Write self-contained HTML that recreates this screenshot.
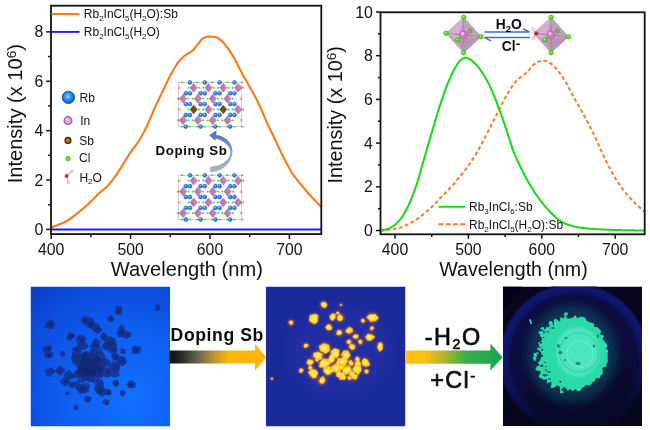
<!DOCTYPE html>
<html><head><meta charset="utf-8"><title>figure</title>
<style>
html,body{margin:0;padding:0;background:#fff;}
body{width:650px;height:430px;overflow:hidden;}
svg{display:block;font-family:"Liberation Sans", sans-serif;}
</style></head><body>
<svg width="650" height="430" viewBox="0 0 650 430">
<defs>
<linearGradient id="ga1" x1="0" x2="1" y1="0" y2="0">
<stop offset="0" stop-color="#0c0c0c"/><stop offset="0.12" stop-color="#2a2a2a"/><stop offset="0.3" stop-color="#6d6654"/><stop offset="0.48" stop-color="#c99a26"/><stop offset="0.62" stop-color="#ffb50d"/><stop offset="1" stop-color="#ffb60c"/>
</linearGradient>
<linearGradient id="ga2" x1="0" x2="1" y1="0" y2="0">
<stop offset="0" stop-color="#ffc20e"/><stop offset="0.2" stop-color="#fcc010"/><stop offset="0.42" stop-color="#a6b52e"/><stop offset="0.62" stop-color="#3aae4c"/><stop offset="1" stop-color="#18a650"/>
</linearGradient>
<linearGradient id="gcurve" x1="0" x2="0" y1="1" y2="0">
<stop offset="0" stop-color="#a9b3c2"/><stop offset="0.45" stop-color="#8fa3c6"/><stop offset="1" stop-color="#3f6cc4"/>
</linearGradient>
<radialGradient id="gRb" cx="0.45" cy="0.42" r="0.62"><stop offset="0" stop-color="#9ad6ff"/><stop offset="0.35" stop-color="#3a9cf4"/><stop offset="0.7" stop-color="#1672dc"/><stop offset="1" stop-color="#0b4cae"/></radialGradient>
<radialGradient id="gp1" cx="0.72" cy="0.8" r="1.05"><stop offset="0" stop-color="#1170ff"/><stop offset="0.5" stop-color="#0d5cee"/><stop offset="0.85" stop-color="#0b48d8"/><stop offset="1" stop-color="#0a40c6"/></radialGradient>
<radialGradient id="gp3" cx="0.5" cy="0.5" r="0.5"><stop offset="0" stop-color="#0a1648"/><stop offset="0.6" stop-color="#090d3e"/><stop offset="0.82" stop-color="#0a0d42"/><stop offset="0.91" stop-color="#10156c"/><stop offset="0.96" stop-color="#121774"/><stop offset="1" stop-color="#080a30"/></radialGradient>
<linearGradient id="gdark" x1="0.3" y1="0" x2="0.5" y2="1"><stop offset="0" stop-color="#06071f" stop-opacity="0"/><stop offset="0.5" stop-color="#06071f" stop-opacity="0.05"/><stop offset="0.8" stop-color="#06071f" stop-opacity="0.6"/><stop offset="1" stop-color="#06071f" stop-opacity="0.9"/></linearGradient>
<filter id="b1" x="-20%" y="-20%" width="140%" height="140%"><feGaussianBlur stdDeviation="0.75"/></filter>
<filter id="b2" x="-20%" y="-20%" width="140%" height="140%"><feGaussianBlur stdDeviation="0.55"/></filter>
<filter id="b3" x="-30%" y="-30%" width="160%" height="160%"><feGaussianBlur stdDeviation="1.3"/></filter>
<filter id="b6" x="-30%" y="-30%" width="160%" height="160%"><feGaussianBlur stdDeviation="5"/></filter>
<clipPath id="c1"><rect x="30.5" y="286.5" width="139.5" height="140"/></clipPath>
<clipPath id="c2"><rect x="266" y="286.5" width="139.5" height="140"/></clipPath>
<clipPath id="c3"><rect x="503" y="286.5" width="139" height="139.5"/></clipPath>
</defs>
<rect width="650" height="430" fill="#fff"/>

<g id="left-plot">
<path d="M51.20,227.30 L52.10,227.02 L53.01,226.73 L53.91,226.43 L54.81,226.12 L55.72,225.80 L56.62,225.47 L57.52,225.12 L58.43,224.77 L59.33,224.41 L60.23,224.05 L61.14,223.67 L62.04,223.28 L62.94,222.88 L63.85,222.46 L64.75,222.01 L65.65,221.55 L66.56,221.06 L67.46,220.52 L68.36,219.94 L69.27,219.32 L70.17,218.68 L71.07,218.01 L71.98,217.33 L72.88,216.65 L73.78,215.96 L74.69,215.29 L75.59,214.61 L76.49,213.92 L77.40,213.22 L78.30,212.51 L79.20,211.80 L80.11,211.07 L81.01,210.33 L81.91,209.58 L82.82,208.82 L83.72,208.03 L84.62,207.24 L85.53,206.43 L86.43,205.60 L87.33,204.77 L88.24,203.93 L89.14,203.08 L90.04,202.22 L90.95,201.36 L91.85,200.49 L92.75,199.59 L93.66,198.68 L94.56,197.76 L95.46,196.85 L96.37,195.94 L97.27,195.05 L98.17,194.18 L99.08,193.34 L99.98,192.54 L100.88,191.78 L101.79,191.04 L102.69,190.31 L103.59,189.57 L104.50,188.81 L105.40,188.02 L106.30,187.19 L107.21,186.29 L108.11,185.33 L109.01,184.32 L109.92,183.27 L110.82,182.17 L111.72,181.04 L112.63,179.87 L113.53,178.68 L114.43,177.46 L115.34,176.22 L116.24,174.95 L117.14,173.62 L118.05,172.23 L118.95,170.81 L119.85,169.37 L120.76,167.92 L121.66,166.48 L122.56,165.04 L123.47,163.58 L124.37,162.10 L125.27,160.62 L126.18,159.13 L127.08,157.66 L127.98,156.21 L128.89,154.79 L129.79,153.41 L130.69,152.10 L131.60,150.84 L132.50,149.62 L133.40,148.43 L134.31,147.26 L135.21,146.08 L136.11,144.88 L137.02,143.65 L137.92,142.36 L138.82,141.02 L139.73,139.59 L140.63,138.08 L141.53,136.50 L142.44,134.85 L143.34,133.13 L144.24,131.37 L145.15,129.57 L146.05,127.73 L146.95,125.86 L147.86,123.90 L148.76,121.85 L149.66,119.76 L150.57,117.65 L151.47,115.54 L152.37,113.48 L153.28,111.46 L154.18,109.44 L155.08,107.44 L155.99,105.44 L156.89,103.46 L157.79,101.50 L158.70,99.56 L159.60,97.66 L160.50,95.78 L161.41,93.91 L162.31,92.05 L163.21,90.19 L164.12,88.31 L165.02,86.38 L165.92,84.44 L166.83,82.50 L167.73,80.58 L168.63,78.70 L169.54,76.89 L170.44,75.16 L171.34,73.51 L172.25,71.89 L173.15,70.30 L174.05,68.74 L174.96,67.24 L175.86,65.79 L176.76,64.42 L177.67,63.14 L178.57,61.96 L179.47,60.87 L180.38,59.84 L181.28,58.87 L182.18,57.96 L183.09,57.11 L183.99,56.31 L184.89,55.56 L185.80,54.90 L186.70,54.30 L187.61,53.75 L188.51,53.22 L189.41,52.68 L190.32,52.12 L191.22,51.51 L192.12,50.82 L193.03,50.02 L193.93,49.08 L194.83,48.03 L195.74,46.93 L196.64,45.82 L197.54,44.75 L198.45,43.62 L199.35,42.38 L200.25,41.13 L201.16,39.96 L202.06,38.96 L202.96,38.23 L203.87,37.81 L204.77,37.46 L205.67,37.15 L206.58,36.88 L207.48,36.68 L208.38,36.55 L209.29,36.50 L210.19,36.52 L211.09,36.56 L212.00,36.64 L212.90,36.74 L213.80,36.86 L214.71,37.00 L215.61,37.16 L216.51,37.35 L217.42,37.70 L218.32,38.23 L219.22,38.91 L220.13,39.68 L221.03,40.51 L221.93,41.35 L222.84,42.21 L223.74,43.16 L224.64,44.20 L225.55,45.32 L226.45,46.49 L227.35,47.69 L228.26,48.91 L229.16,50.17 L230.06,51.48 L230.97,52.84 L231.87,54.26 L232.77,55.73 L233.68,57.24 L234.58,58.83 L235.48,60.52 L236.39,62.31 L237.29,64.14 L238.19,66.00 L239.10,67.85 L240.00,69.66 L240.90,71.39 L241.81,73.06 L242.71,74.70 L243.61,76.32 L244.52,77.92 L245.42,79.51 L246.32,81.09 L247.23,82.68 L248.13,84.28 L249.03,85.89 L249.94,87.49 L250.84,89.06 L251.74,90.63 L252.65,92.21 L253.55,93.81 L254.45,95.43 L255.36,97.10 L256.26,98.83 L257.16,100.63 L258.07,102.50 L258.97,104.44 L259.87,106.43 L260.78,108.45 L261.68,110.48 L262.58,112.53 L263.49,114.66 L264.39,116.82 L265.29,118.99 L266.20,121.11 L267.10,123.16 L268.00,125.10 L268.91,126.97 L269.81,128.79 L270.71,130.58 L271.62,132.37 L272.52,134.19 L273.42,136.06 L274.33,137.98 L275.23,139.95 L276.13,141.94 L277.04,143.92 L277.94,145.89 L278.84,147.83 L279.75,149.72 L280.65,151.58 L281.55,153.43 L282.46,155.25 L283.36,157.05 L284.26,158.82 L285.17,160.56 L286.07,162.28 L286.97,164.00 L287.88,165.70 L288.78,167.37 L289.68,168.99 L290.59,170.55 L291.49,172.03 L292.39,173.42 L293.30,174.76 L294.20,176.04 L295.10,177.29 L296.01,178.49 L296.91,179.68 L297.81,180.85 L298.72,181.98 L299.62,183.08 L300.52,184.16 L301.43,185.22 L302.33,186.27 L303.23,187.33 L304.14,188.40 L305.04,189.49 L305.94,190.58 L306.85,191.66 L307.75,192.74 L308.65,193.79 L309.56,194.82 L310.46,195.81 L311.36,196.77 L312.27,197.70 L313.17,198.62 L314.07,199.53 L314.98,200.44 L315.88,201.37 L316.78,202.32 L317.69,203.27 L318.59,204.22 L319.49,205.18 L320.40,206.14 L321.30,207.10" fill="none" stroke="#ff7410" stroke-width="2" stroke-linejoin="round"/>
<line x1="51" y1="229.45" x2="321" y2="229.45" stroke="#1a1aff" stroke-width="2"/>
<rect x="51.0" y="5.7" width="270.3" height="228.4" fill="none" stroke="#111" stroke-width="1.8"/>
<line x1="46.2" y1="229.45" x2="51.0" y2="229.45" stroke="#111" stroke-width="1.5"/>
<text x="43.2" y="235.0" font-size="15.8" text-anchor="end" font-weight="normal" fill="#111" >0</text>
<line x1="48.1" y1="204.75" x2="51.0" y2="204.75" stroke="#111" stroke-width="1.5"/>
<line x1="46.2" y1="180.05" x2="51.0" y2="180.05" stroke="#111" stroke-width="1.5"/>
<text x="43.2" y="185.6" font-size="15.8" text-anchor="end" font-weight="normal" fill="#111" >2</text>
<line x1="48.1" y1="155.35" x2="51.0" y2="155.35" stroke="#111" stroke-width="1.5"/>
<line x1="46.2" y1="130.65" x2="51.0" y2="130.65" stroke="#111" stroke-width="1.5"/>
<text x="43.2" y="136.2" font-size="15.8" text-anchor="end" font-weight="normal" fill="#111" >4</text>
<line x1="48.1" y1="105.95" x2="51.0" y2="105.95" stroke="#111" stroke-width="1.5"/>
<line x1="46.2" y1="81.25" x2="51.0" y2="81.25" stroke="#111" stroke-width="1.5"/>
<text x="43.2" y="86.8" font-size="15.8" text-anchor="end" font-weight="normal" fill="#111" >6</text>
<line x1="48.1" y1="56.55" x2="51.0" y2="56.55" stroke="#111" stroke-width="1.5"/>
<line x1="46.2" y1="31.85" x2="51.0" y2="31.85" stroke="#111" stroke-width="1.5"/>
<text x="43.2" y="37.4" font-size="15.8" text-anchor="end" font-weight="normal" fill="#111" >8</text>
<line x1="51.20" y1="234.1" x2="51.20" y2="239.1" stroke="#111" stroke-width="1.5"/>
<text x="51.2" y="254.9" font-size="15.8" text-anchor="middle" font-weight="normal" fill="#111" >400</text>
<line x1="90.90" y1="234.1" x2="90.90" y2="237.2" stroke="#111" stroke-width="1.5"/>
<line x1="130.60" y1="234.1" x2="130.60" y2="239.1" stroke="#111" stroke-width="1.5"/>
<text x="130.6" y="254.9" font-size="15.8" text-anchor="middle" font-weight="normal" fill="#111" >500</text>
<line x1="170.30" y1="234.1" x2="170.30" y2="237.2" stroke="#111" stroke-width="1.5"/>
<line x1="210.00" y1="234.1" x2="210.00" y2="239.1" stroke="#111" stroke-width="1.5"/>
<text x="210.0" y="254.9" font-size="15.8" text-anchor="middle" font-weight="normal" fill="#111" >600</text>
<line x1="249.70" y1="234.1" x2="249.70" y2="237.2" stroke="#111" stroke-width="1.5"/>
<line x1="289.40" y1="234.1" x2="289.40" y2="239.1" stroke="#111" stroke-width="1.5"/>
<text x="289.4" y="254.9" font-size="15.8" text-anchor="middle" font-weight="normal" fill="#111" >700</text>
<text x="186.8" y="275.9" font-size="20.1" text-anchor="middle" font-weight="normal" fill="#111" >Wavelength (nm)</text>
<text transform="translate(21.8,113.7) rotate(-90)" font-size="20.1" text-anchor="middle" fill="#111">Intensity (x 10<tspan font-size="13.6" dy="-6.2">6</tspan><tspan dy="6.2" font-size="1">&#8203;</tspan>)</text>
<line x1="51.5" y1="14" x2="79.5" y2="14" stroke="#ff7410" stroke-width="1.9"/>
<line x1="51.5" y1="31.9" x2="79.5" y2="31.9" stroke="#1a1aff" stroke-width="1.9"/>
<text x="83.8" y="18.3" font-size="12.0" text-anchor="start" font-weight="normal" fill="#111" >Rb<tspan font-size="8.0" dy="3.0">2</tspan><tspan dy="-3.0" font-size="1">&#8203;</tspan>InCl<tspan font-size="8.0" dy="3.0">5</tspan><tspan dy="-3.0" font-size="1">&#8203;</tspan>(H<tspan font-size="8.0" dy="3.0">2</tspan><tspan dy="-3.0" font-size="1">&#8203;</tspan>O):Sb</text>
<text x="83.8" y="36.2" font-size="12.0" text-anchor="start" font-weight="normal" fill="#111" >Rb<tspan font-size="8.0" dy="3.0">2</tspan><tspan dy="-3.0" font-size="1">&#8203;</tspan>InCl<tspan font-size="8.0" dy="3.0">5</tspan><tspan dy="-3.0" font-size="1">&#8203;</tspan>(H<tspan font-size="8.0" dy="3.0">2</tspan><tspan dy="-3.0" font-size="1">&#8203;</tspan>O)</text>
<circle cx="68.4" cy="97.4" r="6.2" fill="url(#gRb)" stroke="#0a3f98" stroke-width="0.8"/>
<text x="79.6" y="101.6" font-size="12" text-anchor="start" font-weight="normal" fill="#111" >Rb</text>
<circle cx="68" cy="120.6" r="3.9" fill="#e59ad9" stroke="#9a5a92" stroke-width="1.2"/><circle cx="67.3" cy="119.8" r="1.3" fill="#f8d5f2"/>
<text x="80.2" y="124.8" font-size="12" text-anchor="start" font-weight="normal" fill="#111" >In</text>
<circle cx="68" cy="140.4" r="2.9" fill="#a8651c" stroke="#4a2708" stroke-width="1.3"/><circle cx="67.6" cy="140" r="0.9" fill="#e0a860"/>
<text x="79.2" y="144.7" font-size="12" text-anchor="start" font-weight="normal" fill="#111" >Sb</text>
<circle cx="68" cy="158.6" r="2.2" fill="#56ee22" stroke="#2faa10" stroke-width="0.7"/>
<text x="79.0" y="162.0" font-size="12" text-anchor="start" font-weight="normal" fill="#111" >Cl</text>
<g><line x1="66.8" y1="176" x2="71.8" y2="171.4" stroke="#c48a8a" stroke-width="0.9"/><line x1="66.8" y1="176" x2="68.2" y2="182.3" stroke="#c48a8a" stroke-width="0.9"/><circle cx="71.9" cy="171.3" r="1.3" fill="#f0d8d8" stroke="#b88" stroke-width="0.4"/><circle cx="68.3" cy="182.4" r="1.3" fill="#f0d8d8" stroke="#b88" stroke-width="0.4"/><circle cx="66.6" cy="176" r="1.7" fill="#d62828" stroke="#8e1414" stroke-width="0.4"/></g>
<text x="79.4" y="181.6" font-size="12" text-anchor="start" font-weight="normal" fill="#111" >H<tspan font-size="8" dy="2.8">2</tspan><tspan dy="-2.8" font-size="1">&#8203;</tspan>O</text>
<g transform="translate(178.2,81.5)">
<rect x="0.5" y="0.8" width="63.0" height="44.4" fill="#fbfbfb" stroke="#b9b9b9" stroke-width="0.7"/>
<rect x="9.3" y="5.4" width="2" height="1.8" rx="0.8" fill="#3fd23a"/>
<rect x="19.7" y="5.4" width="2" height="1.8" rx="0.8" fill="#3fd23a"/>
<polygon points="11.9,6.3 15.5,1.9 19.1,6.3 15.5,10.7" fill="#c583b8" stroke="#9a5c92" stroke-width="0.4"/>
<polygon points="11.9,6.3 15.5,1.9 15.5,10.7" fill="#b06fa6" opacity="0.55"/>
<rect x="24.1" y="5.4" width="2" height="1.8" rx="0.8" fill="#3fd23a"/>
<rect x="34.5" y="5.4" width="2" height="1.8" rx="0.8" fill="#3fd23a"/>
<polygon points="26.7,6.3 30.3,1.9 33.9,6.3 30.3,10.7" fill="#c583b8" stroke="#9a5c92" stroke-width="0.4"/>
<polygon points="26.7,6.3 30.3,1.9 30.3,10.7" fill="#b06fa6" opacity="0.55"/>
<rect x="38.9" y="5.4" width="2" height="1.8" rx="0.8" fill="#3fd23a"/>
<rect x="49.3" y="5.4" width="2" height="1.8" rx="0.8" fill="#3fd23a"/>
<polygon points="41.5,6.3 45.1,1.9 48.7,6.3 45.1,10.7" fill="#c583b8" stroke="#9a5c92" stroke-width="0.4"/>
<polygon points="41.5,6.3 45.1,1.9 45.1,10.7" fill="#b06fa6" opacity="0.55"/>
<rect x="53.7" y="5.4" width="2" height="1.8" rx="0.8" fill="#3fd23a"/>
<rect x="64.1" y="5.4" width="2" height="1.8" rx="0.8" fill="#3fd23a"/>
<polygon points="56.3,6.3 59.9,1.9 63.5,6.3 59.9,10.7" fill="#c583b8" stroke="#9a5c92" stroke-width="0.4"/>
<polygon points="56.3,6.3 59.9,1.9 59.9,10.7" fill="#b06fa6" opacity="0.55"/>
<rect x="-1.2" y="16.3" width="2" height="1.8" rx="0.8" fill="#3fd23a"/>
<rect x="9.2" y="16.3" width="2" height="1.8" rx="0.8" fill="#3fd23a"/>
<polygon points="1.4,17.2 5.0,12.8 8.6,17.2 5.0,21.6" fill="#c583b8" stroke="#9a5c92" stroke-width="0.4"/>
<polygon points="1.4,17.2 5.0,12.8 5.0,21.6" fill="#b06fa6" opacity="0.55"/>
<rect x="13.6" y="16.3" width="2" height="1.8" rx="0.8" fill="#3fd23a"/>
<rect x="24.0" y="16.3" width="2" height="1.8" rx="0.8" fill="#3fd23a"/>
<polygon points="16.2,17.2 19.8,12.8 23.4,17.2 19.8,21.6" fill="#c583b8" stroke="#9a5c92" stroke-width="0.4"/>
<polygon points="16.2,17.2 19.8,12.8 19.8,21.6" fill="#b06fa6" opacity="0.55"/>
<rect x="28.4" y="16.3" width="2" height="1.8" rx="0.8" fill="#3fd23a"/>
<rect x="38.8" y="16.3" width="2" height="1.8" rx="0.8" fill="#3fd23a"/>
<polygon points="31.0,17.2 34.6,12.8 38.2,17.2 34.6,21.6" fill="#c583b8" stroke="#9a5c92" stroke-width="0.4"/>
<polygon points="31.0,17.2 34.6,12.8 34.6,21.6" fill="#b06fa6" opacity="0.55"/>
<rect x="43.2" y="16.3" width="2" height="1.8" rx="0.8" fill="#3fd23a"/>
<rect x="53.6" y="16.3" width="2" height="1.8" rx="0.8" fill="#3fd23a"/>
<polygon points="45.8,17.2 49.4,12.8 53.0,17.2 49.4,21.6" fill="#c583b8" stroke="#9a5c92" stroke-width="0.4"/>
<polygon points="45.8,17.2 49.4,12.8 49.4,21.6" fill="#b06fa6" opacity="0.55"/>
<rect x="9.3" y="27.1" width="2" height="1.8" rx="0.8" fill="#3fd23a"/>
<rect x="19.7" y="27.1" width="2" height="1.8" rx="0.8" fill="#3fd23a"/>
<polygon points="11.9,28.0 15.5,23.6 19.1,28.0 15.5,32.4" fill="#7a4a1c" stroke="#5c3510" stroke-width="0.4"/>
<rect x="24.1" y="27.1" width="2" height="1.8" rx="0.8" fill="#3fd23a"/>
<rect x="34.5" y="27.1" width="2" height="1.8" rx="0.8" fill="#3fd23a"/>
<polygon points="26.7,28.0 30.3,23.6 33.9,28.0 30.3,32.4" fill="#c583b8" stroke="#9a5c92" stroke-width="0.4"/>
<polygon points="26.7,28.0 30.3,23.6 30.3,32.4" fill="#b06fa6" opacity="0.55"/>
<rect x="38.9" y="27.1" width="2" height="1.8" rx="0.8" fill="#3fd23a"/>
<rect x="49.3" y="27.1" width="2" height="1.8" rx="0.8" fill="#3fd23a"/>
<polygon points="41.5,28.0 45.1,23.6 48.7,28.0 45.1,32.4" fill="#7a4a1c" stroke="#5c3510" stroke-width="0.4"/>
<rect x="53.7" y="27.1" width="2" height="1.8" rx="0.8" fill="#3fd23a"/>
<rect x="64.1" y="27.1" width="2" height="1.8" rx="0.8" fill="#3fd23a"/>
<polygon points="56.3,28.0 59.9,23.6 63.5,28.0 59.9,32.4" fill="#c583b8" stroke="#9a5c92" stroke-width="0.4"/>
<polygon points="56.3,28.0 59.9,23.6 59.9,32.4" fill="#b06fa6" opacity="0.55"/>
<rect x="-1.2" y="37.9" width="2" height="1.8" rx="0.8" fill="#3fd23a"/>
<rect x="9.2" y="37.9" width="2" height="1.8" rx="0.8" fill="#3fd23a"/>
<polygon points="1.4,38.8 5.0,34.4 8.6,38.8 5.0,43.2" fill="#c583b8" stroke="#9a5c92" stroke-width="0.4"/>
<polygon points="1.4,38.8 5.0,34.4 5.0,43.2" fill="#b06fa6" opacity="0.55"/>
<rect x="13.6" y="37.9" width="2" height="1.8" rx="0.8" fill="#3fd23a"/>
<rect x="24.0" y="37.9" width="2" height="1.8" rx="0.8" fill="#3fd23a"/>
<polygon points="16.2,38.8 19.8,34.4 23.4,38.8 19.8,43.2" fill="#c583b8" stroke="#9a5c92" stroke-width="0.4"/>
<polygon points="16.2,38.8 19.8,34.4 19.8,43.2" fill="#b06fa6" opacity="0.55"/>
<rect x="28.4" y="37.9" width="2" height="1.8" rx="0.8" fill="#3fd23a"/>
<rect x="38.8" y="37.9" width="2" height="1.8" rx="0.8" fill="#3fd23a"/>
<polygon points="31.0,38.8 34.6,34.4 38.2,38.8 34.6,43.2" fill="#c583b8" stroke="#9a5c92" stroke-width="0.4"/>
<polygon points="31.0,38.8 34.6,34.4 34.6,43.2" fill="#b06fa6" opacity="0.55"/>
<rect x="43.2" y="37.9" width="2" height="1.8" rx="0.8" fill="#3fd23a"/>
<rect x="53.6" y="37.9" width="2" height="1.8" rx="0.8" fill="#3fd23a"/>
<polygon points="45.8,38.8 49.4,34.4 53.0,38.8 49.4,43.2" fill="#c583b8" stroke="#9a5c92" stroke-width="0.4"/>
<polygon points="45.8,38.8 49.4,34.4 49.4,43.2" fill="#b06fa6" opacity="0.55"/>
<rect x="2.8" y="0.1" width="2.4" height="1.4" fill="#3fd23a"/>
<rect x="2.8" y="44.5" width="2.4" height="1.4" fill="#3fd23a"/>
<rect x="10.3" y="0.1" width="2.4" height="1.4" fill="#3fd23a"/>
<rect x="10.3" y="44.5" width="2.4" height="1.4" fill="#3fd23a"/>
<rect x="17.8" y="0.1" width="2.4" height="1.4" fill="#3fd23a"/>
<rect x="17.8" y="44.5" width="2.4" height="1.4" fill="#3fd23a"/>
<rect x="25.3" y="0.1" width="2.4" height="1.4" fill="#3fd23a"/>
<rect x="25.3" y="44.5" width="2.4" height="1.4" fill="#3fd23a"/>
<rect x="32.8" y="0.1" width="2.4" height="1.4" fill="#3fd23a"/>
<rect x="32.8" y="44.5" width="2.4" height="1.4" fill="#3fd23a"/>
<rect x="40.3" y="0.1" width="2.4" height="1.4" fill="#3fd23a"/>
<rect x="40.3" y="44.5" width="2.4" height="1.4" fill="#3fd23a"/>
<rect x="47.8" y="0.1" width="2.4" height="1.4" fill="#3fd23a"/>
<rect x="47.8" y="44.5" width="2.4" height="1.4" fill="#3fd23a"/>
<rect x="55.3" y="0.1" width="2.4" height="1.4" fill="#3fd23a"/>
<rect x="55.3" y="44.5" width="2.4" height="1.4" fill="#3fd23a"/>
<rect x="62.8" y="0.1" width="2.4" height="1.4" fill="#3fd23a"/>
<rect x="62.8" y="44.5" width="2.4" height="1.4" fill="#3fd23a"/>
<path d="M-0.30000000000000004,5.0 L2.3,7.6 M-0.30000000000000004,7.6 L2.3,5.0" stroke="#e25a5a" stroke-width="0.6"/>
<path d="M61.7,5.0 L64.3,7.6 M61.7,7.6 L64.3,5.0" stroke="#e25a5a" stroke-width="0.6"/>
<path d="M-0.30000000000000004,15.899999999999999 L2.3,18.5 M-0.30000000000000004,18.5 L2.3,15.899999999999999" stroke="#e25a5a" stroke-width="0.6"/>
<path d="M61.7,15.899999999999999 L64.3,18.5 M61.7,18.5 L64.3,15.899999999999999" stroke="#e25a5a" stroke-width="0.6"/>
<path d="M-0.30000000000000004,26.7 L2.3,29.3 M-0.30000000000000004,29.3 L2.3,26.7" stroke="#e25a5a" stroke-width="0.6"/>
<path d="M61.7,26.7 L64.3,29.3 M61.7,29.3 L64.3,26.7" stroke="#e25a5a" stroke-width="0.6"/>
<path d="M-0.30000000000000004,37.5 L2.3,40.099999999999994 M-0.30000000000000004,40.099999999999994 L2.3,37.5" stroke="#e25a5a" stroke-width="0.6"/>
<path d="M61.7,37.5 L64.3,40.099999999999994 M61.7,40.099999999999994 L64.3,37.5" stroke="#e25a5a" stroke-width="0.6"/>
<circle cx="11.8" cy="0.9" r="1.9" fill="#2a7fe0" stroke="#1557b5" stroke-width="0.6"/>
<circle cx="11.4" cy="0.4" r="0.8" fill="#9ccaf7"/>
<circle cx="7.6" cy="45.1" r="1.9" fill="#2a7fe0" stroke="#1557b5" stroke-width="0.6"/>
<circle cx="7.2" cy="44.6" r="0.8" fill="#9ccaf7"/>
<circle cx="26.6" cy="0.9" r="1.9" fill="#2a7fe0" stroke="#1557b5" stroke-width="0.6"/>
<circle cx="26.2" cy="0.4" r="0.8" fill="#9ccaf7"/>
<circle cx="22.4" cy="45.1" r="1.9" fill="#2a7fe0" stroke="#1557b5" stroke-width="0.6"/>
<circle cx="22.0" cy="44.6" r="0.8" fill="#9ccaf7"/>
<circle cx="41.4" cy="0.9" r="1.9" fill="#2a7fe0" stroke="#1557b5" stroke-width="0.6"/>
<circle cx="41.0" cy="0.4" r="0.8" fill="#9ccaf7"/>
<circle cx="37.2" cy="45.1" r="1.9" fill="#2a7fe0" stroke="#1557b5" stroke-width="0.6"/>
<circle cx="36.8" cy="44.6" r="0.8" fill="#9ccaf7"/>
<circle cx="56.2" cy="0.9" r="1.9" fill="#2a7fe0" stroke="#1557b5" stroke-width="0.6"/>
<circle cx="55.8" cy="0.4" r="0.8" fill="#9ccaf7"/>
<circle cx="52.0" cy="45.1" r="1.9" fill="#2a7fe0" stroke="#1557b5" stroke-width="0.6"/>
<circle cx="51.6" cy="44.6" r="0.8" fill="#9ccaf7"/>
<circle cx="7.6" cy="11.8" r="1.9" fill="#2a7fe0" stroke="#1557b5" stroke-width="0.6"/>
<circle cx="7.2" cy="11.3" r="0.8" fill="#9ccaf7"/>
<circle cx="11.8" cy="11.8" r="1.9" fill="#2a7fe0" stroke="#1557b5" stroke-width="0.6"/>
<circle cx="11.4" cy="11.3" r="0.8" fill="#9ccaf7"/>
<circle cx="22.4" cy="11.8" r="1.9" fill="#2a7fe0" stroke="#1557b5" stroke-width="0.6"/>
<circle cx="22.0" cy="11.3" r="0.8" fill="#9ccaf7"/>
<circle cx="26.6" cy="11.8" r="1.9" fill="#2a7fe0" stroke="#1557b5" stroke-width="0.6"/>
<circle cx="26.2" cy="11.3" r="0.8" fill="#9ccaf7"/>
<circle cx="37.2" cy="11.8" r="1.9" fill="#2a7fe0" stroke="#1557b5" stroke-width="0.6"/>
<circle cx="36.8" cy="11.3" r="0.8" fill="#9ccaf7"/>
<circle cx="41.4" cy="11.8" r="1.9" fill="#2a7fe0" stroke="#1557b5" stroke-width="0.6"/>
<circle cx="41.0" cy="11.3" r="0.8" fill="#9ccaf7"/>
<circle cx="52.0" cy="11.8" r="1.9" fill="#2a7fe0" stroke="#1557b5" stroke-width="0.6"/>
<circle cx="51.6" cy="11.3" r="0.8" fill="#9ccaf7"/>
<circle cx="56.2" cy="11.8" r="1.9" fill="#2a7fe0" stroke="#1557b5" stroke-width="0.6"/>
<circle cx="55.8" cy="11.3" r="0.8" fill="#9ccaf7"/>
<circle cx="7.6" cy="22.6" r="1.9" fill="#2a7fe0" stroke="#1557b5" stroke-width="0.6"/>
<circle cx="7.2" cy="22.1" r="0.8" fill="#9ccaf7"/>
<circle cx="11.8" cy="22.6" r="1.9" fill="#2a7fe0" stroke="#1557b5" stroke-width="0.6"/>
<circle cx="11.4" cy="22.1" r="0.8" fill="#9ccaf7"/>
<circle cx="22.4" cy="22.6" r="1.9" fill="#2a7fe0" stroke="#1557b5" stroke-width="0.6"/>
<circle cx="22.0" cy="22.1" r="0.8" fill="#9ccaf7"/>
<circle cx="26.6" cy="22.6" r="1.9" fill="#2a7fe0" stroke="#1557b5" stroke-width="0.6"/>
<circle cx="26.2" cy="22.1" r="0.8" fill="#9ccaf7"/>
<circle cx="37.2" cy="22.6" r="1.9" fill="#2a7fe0" stroke="#1557b5" stroke-width="0.6"/>
<circle cx="36.8" cy="22.1" r="0.8" fill="#9ccaf7"/>
<circle cx="41.4" cy="22.6" r="1.9" fill="#2a7fe0" stroke="#1557b5" stroke-width="0.6"/>
<circle cx="41.0" cy="22.1" r="0.8" fill="#9ccaf7"/>
<circle cx="52.0" cy="22.6" r="1.9" fill="#2a7fe0" stroke="#1557b5" stroke-width="0.6"/>
<circle cx="51.6" cy="22.1" r="0.8" fill="#9ccaf7"/>
<circle cx="56.2" cy="22.6" r="1.9" fill="#2a7fe0" stroke="#1557b5" stroke-width="0.6"/>
<circle cx="55.8" cy="22.1" r="0.8" fill="#9ccaf7"/>
<circle cx="7.6" cy="33.5" r="1.9" fill="#2a7fe0" stroke="#1557b5" stroke-width="0.6"/>
<circle cx="7.2" cy="33.0" r="0.8" fill="#9ccaf7"/>
<circle cx="11.8" cy="33.5" r="1.9" fill="#2a7fe0" stroke="#1557b5" stroke-width="0.6"/>
<circle cx="11.4" cy="33.0" r="0.8" fill="#9ccaf7"/>
<circle cx="22.4" cy="33.5" r="1.9" fill="#2a7fe0" stroke="#1557b5" stroke-width="0.6"/>
<circle cx="22.0" cy="33.0" r="0.8" fill="#9ccaf7"/>
<circle cx="26.6" cy="33.5" r="1.9" fill="#2a7fe0" stroke="#1557b5" stroke-width="0.6"/>
<circle cx="26.2" cy="33.0" r="0.8" fill="#9ccaf7"/>
<circle cx="37.2" cy="33.5" r="1.9" fill="#2a7fe0" stroke="#1557b5" stroke-width="0.6"/>
<circle cx="36.8" cy="33.0" r="0.8" fill="#9ccaf7"/>
<circle cx="41.4" cy="33.5" r="1.9" fill="#2a7fe0" stroke="#1557b5" stroke-width="0.6"/>
<circle cx="41.0" cy="33.0" r="0.8" fill="#9ccaf7"/>
<circle cx="52.0" cy="33.5" r="1.9" fill="#2a7fe0" stroke="#1557b5" stroke-width="0.6"/>
<circle cx="51.6" cy="33.0" r="0.8" fill="#9ccaf7"/>
<circle cx="56.2" cy="33.5" r="1.9" fill="#2a7fe0" stroke="#1557b5" stroke-width="0.6"/>
<circle cx="55.8" cy="33.0" r="0.8" fill="#9ccaf7"/>
</g>
<g transform="translate(178.2,174.4)">
<rect x="0.5" y="0.8" width="63.0" height="44.4" fill="#fbfbfb" stroke="#b9b9b9" stroke-width="0.7"/>
<rect x="9.3" y="5.4" width="2" height="1.8" rx="0.8" fill="#3fd23a"/>
<rect x="19.7" y="5.4" width="2" height="1.8" rx="0.8" fill="#3fd23a"/>
<polygon points="11.9,6.3 15.5,1.9 19.1,6.3 15.5,10.7" fill="#c583b8" stroke="#9a5c92" stroke-width="0.4"/>
<polygon points="11.9,6.3 15.5,1.9 15.5,10.7" fill="#b06fa6" opacity="0.55"/>
<rect x="24.1" y="5.4" width="2" height="1.8" rx="0.8" fill="#3fd23a"/>
<rect x="34.5" y="5.4" width="2" height="1.8" rx="0.8" fill="#3fd23a"/>
<polygon points="26.7,6.3 30.3,1.9 33.9,6.3 30.3,10.7" fill="#c583b8" stroke="#9a5c92" stroke-width="0.4"/>
<polygon points="26.7,6.3 30.3,1.9 30.3,10.7" fill="#b06fa6" opacity="0.55"/>
<rect x="38.9" y="5.4" width="2" height="1.8" rx="0.8" fill="#3fd23a"/>
<rect x="49.3" y="5.4" width="2" height="1.8" rx="0.8" fill="#3fd23a"/>
<polygon points="41.5,6.3 45.1,1.9 48.7,6.3 45.1,10.7" fill="#c583b8" stroke="#9a5c92" stroke-width="0.4"/>
<polygon points="41.5,6.3 45.1,1.9 45.1,10.7" fill="#b06fa6" opacity="0.55"/>
<rect x="53.7" y="5.4" width="2" height="1.8" rx="0.8" fill="#3fd23a"/>
<rect x="64.1" y="5.4" width="2" height="1.8" rx="0.8" fill="#3fd23a"/>
<polygon points="56.3,6.3 59.9,1.9 63.5,6.3 59.9,10.7" fill="#c583b8" stroke="#9a5c92" stroke-width="0.4"/>
<polygon points="56.3,6.3 59.9,1.9 59.9,10.7" fill="#b06fa6" opacity="0.55"/>
<rect x="-1.2" y="16.3" width="2" height="1.8" rx="0.8" fill="#3fd23a"/>
<rect x="9.2" y="16.3" width="2" height="1.8" rx="0.8" fill="#3fd23a"/>
<polygon points="1.4,17.2 5.0,12.8 8.6,17.2 5.0,21.6" fill="#c583b8" stroke="#9a5c92" stroke-width="0.4"/>
<polygon points="1.4,17.2 5.0,12.8 5.0,21.6" fill="#b06fa6" opacity="0.55"/>
<rect x="13.6" y="16.3" width="2" height="1.8" rx="0.8" fill="#3fd23a"/>
<rect x="24.0" y="16.3" width="2" height="1.8" rx="0.8" fill="#3fd23a"/>
<polygon points="16.2,17.2 19.8,12.8 23.4,17.2 19.8,21.6" fill="#c583b8" stroke="#9a5c92" stroke-width="0.4"/>
<polygon points="16.2,17.2 19.8,12.8 19.8,21.6" fill="#b06fa6" opacity="0.55"/>
<rect x="28.4" y="16.3" width="2" height="1.8" rx="0.8" fill="#3fd23a"/>
<rect x="38.8" y="16.3" width="2" height="1.8" rx="0.8" fill="#3fd23a"/>
<polygon points="31.0,17.2 34.6,12.8 38.2,17.2 34.6,21.6" fill="#c583b8" stroke="#9a5c92" stroke-width="0.4"/>
<polygon points="31.0,17.2 34.6,12.8 34.6,21.6" fill="#b06fa6" opacity="0.55"/>
<rect x="43.2" y="16.3" width="2" height="1.8" rx="0.8" fill="#3fd23a"/>
<rect x="53.6" y="16.3" width="2" height="1.8" rx="0.8" fill="#3fd23a"/>
<polygon points="45.8,17.2 49.4,12.8 53.0,17.2 49.4,21.6" fill="#c583b8" stroke="#9a5c92" stroke-width="0.4"/>
<polygon points="45.8,17.2 49.4,12.8 49.4,21.6" fill="#b06fa6" opacity="0.55"/>
<rect x="9.3" y="27.1" width="2" height="1.8" rx="0.8" fill="#3fd23a"/>
<rect x="19.7" y="27.1" width="2" height="1.8" rx="0.8" fill="#3fd23a"/>
<polygon points="11.9,28.0 15.5,23.6 19.1,28.0 15.5,32.4" fill="#c583b8" stroke="#9a5c92" stroke-width="0.4"/>
<polygon points="11.9,28.0 15.5,23.6 15.5,32.4" fill="#b06fa6" opacity="0.55"/>
<rect x="24.1" y="27.1" width="2" height="1.8" rx="0.8" fill="#3fd23a"/>
<rect x="34.5" y="27.1" width="2" height="1.8" rx="0.8" fill="#3fd23a"/>
<polygon points="26.7,28.0 30.3,23.6 33.9,28.0 30.3,32.4" fill="#c583b8" stroke="#9a5c92" stroke-width="0.4"/>
<polygon points="26.7,28.0 30.3,23.6 30.3,32.4" fill="#b06fa6" opacity="0.55"/>
<rect x="38.9" y="27.1" width="2" height="1.8" rx="0.8" fill="#3fd23a"/>
<rect x="49.3" y="27.1" width="2" height="1.8" rx="0.8" fill="#3fd23a"/>
<polygon points="41.5,28.0 45.1,23.6 48.7,28.0 45.1,32.4" fill="#c583b8" stroke="#9a5c92" stroke-width="0.4"/>
<polygon points="41.5,28.0 45.1,23.6 45.1,32.4" fill="#b06fa6" opacity="0.55"/>
<rect x="53.7" y="27.1" width="2" height="1.8" rx="0.8" fill="#3fd23a"/>
<rect x="64.1" y="27.1" width="2" height="1.8" rx="0.8" fill="#3fd23a"/>
<polygon points="56.3,28.0 59.9,23.6 63.5,28.0 59.9,32.4" fill="#c583b8" stroke="#9a5c92" stroke-width="0.4"/>
<polygon points="56.3,28.0 59.9,23.6 59.9,32.4" fill="#b06fa6" opacity="0.55"/>
<rect x="-1.2" y="37.9" width="2" height="1.8" rx="0.8" fill="#3fd23a"/>
<rect x="9.2" y="37.9" width="2" height="1.8" rx="0.8" fill="#3fd23a"/>
<polygon points="1.4,38.8 5.0,34.4 8.6,38.8 5.0,43.2" fill="#c583b8" stroke="#9a5c92" stroke-width="0.4"/>
<polygon points="1.4,38.8 5.0,34.4 5.0,43.2" fill="#b06fa6" opacity="0.55"/>
<rect x="13.6" y="37.9" width="2" height="1.8" rx="0.8" fill="#3fd23a"/>
<rect x="24.0" y="37.9" width="2" height="1.8" rx="0.8" fill="#3fd23a"/>
<polygon points="16.2,38.8 19.8,34.4 23.4,38.8 19.8,43.2" fill="#c583b8" stroke="#9a5c92" stroke-width="0.4"/>
<polygon points="16.2,38.8 19.8,34.4 19.8,43.2" fill="#b06fa6" opacity="0.55"/>
<rect x="28.4" y="37.9" width="2" height="1.8" rx="0.8" fill="#3fd23a"/>
<rect x="38.8" y="37.9" width="2" height="1.8" rx="0.8" fill="#3fd23a"/>
<polygon points="31.0,38.8 34.6,34.4 38.2,38.8 34.6,43.2" fill="#c583b8" stroke="#9a5c92" stroke-width="0.4"/>
<polygon points="31.0,38.8 34.6,34.4 34.6,43.2" fill="#b06fa6" opacity="0.55"/>
<rect x="43.2" y="37.9" width="2" height="1.8" rx="0.8" fill="#3fd23a"/>
<rect x="53.6" y="37.9" width="2" height="1.8" rx="0.8" fill="#3fd23a"/>
<polygon points="45.8,38.8 49.4,34.4 53.0,38.8 49.4,43.2" fill="#c583b8" stroke="#9a5c92" stroke-width="0.4"/>
<polygon points="45.8,38.8 49.4,34.4 49.4,43.2" fill="#b06fa6" opacity="0.55"/>
<rect x="2.8" y="0.1" width="2.4" height="1.4" fill="#3fd23a"/>
<rect x="2.8" y="44.5" width="2.4" height="1.4" fill="#3fd23a"/>
<rect x="10.3" y="0.1" width="2.4" height="1.4" fill="#3fd23a"/>
<rect x="10.3" y="44.5" width="2.4" height="1.4" fill="#3fd23a"/>
<rect x="17.8" y="0.1" width="2.4" height="1.4" fill="#3fd23a"/>
<rect x="17.8" y="44.5" width="2.4" height="1.4" fill="#3fd23a"/>
<rect x="25.3" y="0.1" width="2.4" height="1.4" fill="#3fd23a"/>
<rect x="25.3" y="44.5" width="2.4" height="1.4" fill="#3fd23a"/>
<rect x="32.8" y="0.1" width="2.4" height="1.4" fill="#3fd23a"/>
<rect x="32.8" y="44.5" width="2.4" height="1.4" fill="#3fd23a"/>
<rect x="40.3" y="0.1" width="2.4" height="1.4" fill="#3fd23a"/>
<rect x="40.3" y="44.5" width="2.4" height="1.4" fill="#3fd23a"/>
<rect x="47.8" y="0.1" width="2.4" height="1.4" fill="#3fd23a"/>
<rect x="47.8" y="44.5" width="2.4" height="1.4" fill="#3fd23a"/>
<rect x="55.3" y="0.1" width="2.4" height="1.4" fill="#3fd23a"/>
<rect x="55.3" y="44.5" width="2.4" height="1.4" fill="#3fd23a"/>
<rect x="62.8" y="0.1" width="2.4" height="1.4" fill="#3fd23a"/>
<rect x="62.8" y="44.5" width="2.4" height="1.4" fill="#3fd23a"/>
<path d="M-0.30000000000000004,5.0 L2.3,7.6 M-0.30000000000000004,7.6 L2.3,5.0" stroke="#e25a5a" stroke-width="0.6"/>
<path d="M61.7,5.0 L64.3,7.6 M61.7,7.6 L64.3,5.0" stroke="#e25a5a" stroke-width="0.6"/>
<path d="M-0.30000000000000004,15.899999999999999 L2.3,18.5 M-0.30000000000000004,18.5 L2.3,15.899999999999999" stroke="#e25a5a" stroke-width="0.6"/>
<path d="M61.7,15.899999999999999 L64.3,18.5 M61.7,18.5 L64.3,15.899999999999999" stroke="#e25a5a" stroke-width="0.6"/>
<path d="M-0.30000000000000004,26.7 L2.3,29.3 M-0.30000000000000004,29.3 L2.3,26.7" stroke="#e25a5a" stroke-width="0.6"/>
<path d="M61.7,26.7 L64.3,29.3 M61.7,29.3 L64.3,26.7" stroke="#e25a5a" stroke-width="0.6"/>
<path d="M-0.30000000000000004,37.5 L2.3,40.099999999999994 M-0.30000000000000004,40.099999999999994 L2.3,37.5" stroke="#e25a5a" stroke-width="0.6"/>
<path d="M61.7,37.5 L64.3,40.099999999999994 M61.7,40.099999999999994 L64.3,37.5" stroke="#e25a5a" stroke-width="0.6"/>
<circle cx="11.8" cy="0.9" r="1.9" fill="#2a7fe0" stroke="#1557b5" stroke-width="0.6"/>
<circle cx="11.4" cy="0.4" r="0.8" fill="#9ccaf7"/>
<circle cx="7.6" cy="45.1" r="1.9" fill="#2a7fe0" stroke="#1557b5" stroke-width="0.6"/>
<circle cx="7.2" cy="44.6" r="0.8" fill="#9ccaf7"/>
<circle cx="26.6" cy="0.9" r="1.9" fill="#2a7fe0" stroke="#1557b5" stroke-width="0.6"/>
<circle cx="26.2" cy="0.4" r="0.8" fill="#9ccaf7"/>
<circle cx="22.4" cy="45.1" r="1.9" fill="#2a7fe0" stroke="#1557b5" stroke-width="0.6"/>
<circle cx="22.0" cy="44.6" r="0.8" fill="#9ccaf7"/>
<circle cx="41.4" cy="0.9" r="1.9" fill="#2a7fe0" stroke="#1557b5" stroke-width="0.6"/>
<circle cx="41.0" cy="0.4" r="0.8" fill="#9ccaf7"/>
<circle cx="37.2" cy="45.1" r="1.9" fill="#2a7fe0" stroke="#1557b5" stroke-width="0.6"/>
<circle cx="36.8" cy="44.6" r="0.8" fill="#9ccaf7"/>
<circle cx="56.2" cy="0.9" r="1.9" fill="#2a7fe0" stroke="#1557b5" stroke-width="0.6"/>
<circle cx="55.8" cy="0.4" r="0.8" fill="#9ccaf7"/>
<circle cx="52.0" cy="45.1" r="1.9" fill="#2a7fe0" stroke="#1557b5" stroke-width="0.6"/>
<circle cx="51.6" cy="44.6" r="0.8" fill="#9ccaf7"/>
<circle cx="7.6" cy="11.8" r="1.9" fill="#2a7fe0" stroke="#1557b5" stroke-width="0.6"/>
<circle cx="7.2" cy="11.3" r="0.8" fill="#9ccaf7"/>
<circle cx="11.8" cy="11.8" r="1.9" fill="#2a7fe0" stroke="#1557b5" stroke-width="0.6"/>
<circle cx="11.4" cy="11.3" r="0.8" fill="#9ccaf7"/>
<circle cx="22.4" cy="11.8" r="1.9" fill="#2a7fe0" stroke="#1557b5" stroke-width="0.6"/>
<circle cx="22.0" cy="11.3" r="0.8" fill="#9ccaf7"/>
<circle cx="26.6" cy="11.8" r="1.9" fill="#2a7fe0" stroke="#1557b5" stroke-width="0.6"/>
<circle cx="26.2" cy="11.3" r="0.8" fill="#9ccaf7"/>
<circle cx="37.2" cy="11.8" r="1.9" fill="#2a7fe0" stroke="#1557b5" stroke-width="0.6"/>
<circle cx="36.8" cy="11.3" r="0.8" fill="#9ccaf7"/>
<circle cx="41.4" cy="11.8" r="1.9" fill="#2a7fe0" stroke="#1557b5" stroke-width="0.6"/>
<circle cx="41.0" cy="11.3" r="0.8" fill="#9ccaf7"/>
<circle cx="52.0" cy="11.8" r="1.9" fill="#2a7fe0" stroke="#1557b5" stroke-width="0.6"/>
<circle cx="51.6" cy="11.3" r="0.8" fill="#9ccaf7"/>
<circle cx="56.2" cy="11.8" r="1.9" fill="#2a7fe0" stroke="#1557b5" stroke-width="0.6"/>
<circle cx="55.8" cy="11.3" r="0.8" fill="#9ccaf7"/>
<circle cx="7.6" cy="22.6" r="1.9" fill="#2a7fe0" stroke="#1557b5" stroke-width="0.6"/>
<circle cx="7.2" cy="22.1" r="0.8" fill="#9ccaf7"/>
<circle cx="11.8" cy="22.6" r="1.9" fill="#2a7fe0" stroke="#1557b5" stroke-width="0.6"/>
<circle cx="11.4" cy="22.1" r="0.8" fill="#9ccaf7"/>
<circle cx="22.4" cy="22.6" r="1.9" fill="#2a7fe0" stroke="#1557b5" stroke-width="0.6"/>
<circle cx="22.0" cy="22.1" r="0.8" fill="#9ccaf7"/>
<circle cx="26.6" cy="22.6" r="1.9" fill="#2a7fe0" stroke="#1557b5" stroke-width="0.6"/>
<circle cx="26.2" cy="22.1" r="0.8" fill="#9ccaf7"/>
<circle cx="37.2" cy="22.6" r="1.9" fill="#2a7fe0" stroke="#1557b5" stroke-width="0.6"/>
<circle cx="36.8" cy="22.1" r="0.8" fill="#9ccaf7"/>
<circle cx="41.4" cy="22.6" r="1.9" fill="#2a7fe0" stroke="#1557b5" stroke-width="0.6"/>
<circle cx="41.0" cy="22.1" r="0.8" fill="#9ccaf7"/>
<circle cx="52.0" cy="22.6" r="1.9" fill="#2a7fe0" stroke="#1557b5" stroke-width="0.6"/>
<circle cx="51.6" cy="22.1" r="0.8" fill="#9ccaf7"/>
<circle cx="56.2" cy="22.6" r="1.9" fill="#2a7fe0" stroke="#1557b5" stroke-width="0.6"/>
<circle cx="55.8" cy="22.1" r="0.8" fill="#9ccaf7"/>
<circle cx="7.6" cy="33.5" r="1.9" fill="#2a7fe0" stroke="#1557b5" stroke-width="0.6"/>
<circle cx="7.2" cy="33.0" r="0.8" fill="#9ccaf7"/>
<circle cx="11.8" cy="33.5" r="1.9" fill="#2a7fe0" stroke="#1557b5" stroke-width="0.6"/>
<circle cx="11.4" cy="33.0" r="0.8" fill="#9ccaf7"/>
<circle cx="22.4" cy="33.5" r="1.9" fill="#2a7fe0" stroke="#1557b5" stroke-width="0.6"/>
<circle cx="22.0" cy="33.0" r="0.8" fill="#9ccaf7"/>
<circle cx="26.6" cy="33.5" r="1.9" fill="#2a7fe0" stroke="#1557b5" stroke-width="0.6"/>
<circle cx="26.2" cy="33.0" r="0.8" fill="#9ccaf7"/>
<circle cx="37.2" cy="33.5" r="1.9" fill="#2a7fe0" stroke="#1557b5" stroke-width="0.6"/>
<circle cx="36.8" cy="33.0" r="0.8" fill="#9ccaf7"/>
<circle cx="41.4" cy="33.5" r="1.9" fill="#2a7fe0" stroke="#1557b5" stroke-width="0.6"/>
<circle cx="41.0" cy="33.0" r="0.8" fill="#9ccaf7"/>
<circle cx="52.0" cy="33.5" r="1.9" fill="#2a7fe0" stroke="#1557b5" stroke-width="0.6"/>
<circle cx="51.6" cy="33.0" r="0.8" fill="#9ccaf7"/>
<circle cx="56.2" cy="33.5" r="1.9" fill="#2a7fe0" stroke="#1557b5" stroke-width="0.6"/>
<circle cx="55.8" cy="33.0" r="0.8" fill="#9ccaf7"/>
</g>
<path d="M210.2,172.4 C224.5,171.5 232.6,161 232.4,151 C232.2,142 225,136 216.2,135 L216.5,130.3 L209.3,135.3 L215.3,141 L215.7,138.5 C222,140 230.0,145 230.4,151.5 C230.8,158 224,165.8 210.2,166.8 Z" fill="url(#gcurve)"/>
<text x="155.5" y="155" font-size="13.3" text-anchor="start" font-weight="bold" fill="#0a0a0a" letter-spacing="0.6">Doping Sb</text>
</g>
<g id="right-plot">
<path d="M380.30,230.80 L381.18,230.75 L382.07,230.68 L382.95,230.61 L383.84,230.53 L384.72,230.45 L385.61,230.35 L386.49,230.26 L387.37,230.16 L388.26,230.04 L389.14,229.92 L390.03,229.78 L390.91,229.64 L391.80,229.49 L392.68,229.33 L393.56,229.16 L394.45,228.99 L395.33,228.81 L396.22,228.62 L397.10,228.42 L397.99,228.21 L398.87,227.98 L399.75,227.74 L400.64,227.48 L401.52,227.20 L402.41,226.88 L403.29,226.53 L404.18,226.16 L405.06,225.76 L405.94,225.35 L406.83,224.92 L407.71,224.49 L408.60,224.05 L409.48,223.59 L410.37,223.11 L411.25,222.61 L412.13,222.09 L413.02,221.56 L413.90,221.02 L414.79,220.47 L415.67,219.91 L416.56,219.34 L417.44,218.75 L418.32,218.14 L419.21,217.52 L420.09,216.88 L420.98,216.23 L421.86,215.55 L422.75,214.85 L423.63,214.11 L424.51,213.35 L425.40,212.57 L426.28,211.78 L427.17,210.98 L428.05,210.18 L428.94,209.38 L429.82,208.59 L430.70,207.79 L431.59,206.99 L432.47,206.19 L433.36,205.37 L434.24,204.53 L435.13,203.67 L436.01,202.79 L436.89,201.86 L437.78,200.89 L438.66,199.90 L439.55,198.91 L440.43,197.93 L441.32,196.97 L442.20,196.04 L443.08,195.12 L443.97,194.22 L444.85,193.32 L445.74,192.43 L446.62,191.54 L447.51,190.65 L448.39,189.75 L449.27,188.84 L450.16,187.92 L451.04,186.99 L451.93,186.03 L452.81,185.05 L453.70,184.04 L454.58,182.99 L455.46,181.90 L456.35,180.79 L457.23,179.68 L458.12,178.57 L459.00,177.48 L459.89,176.41 L460.77,175.37 L461.65,174.33 L462.54,173.29 L463.42,172.23 L464.31,171.15 L465.19,170.03 L466.08,168.87 L466.96,167.67 L467.84,166.44 L468.73,165.18 L469.61,163.89 L470.50,162.58 L471.38,161.25 L472.27,159.89 L473.15,158.52 L474.03,157.12 L474.92,155.69 L475.80,154.24 L476.69,152.76 L477.57,151.26 L478.46,149.73 L479.34,148.18 L480.22,146.58 L481.11,144.95 L481.99,143.29 L482.88,141.60 L483.76,139.89 L484.65,138.16 L485.53,136.43 L486.41,134.68 L487.30,132.93 L488.18,131.19 L489.07,129.45 L489.95,127.72 L490.84,125.98 L491.72,124.24 L492.60,122.49 L493.49,120.74 L494.37,118.98 L495.26,117.22 L496.14,115.46 L497.03,113.70 L497.91,111.95 L498.79,110.20 L499.68,108.45 L500.56,106.68 L501.45,104.90 L502.33,103.13 L503.22,101.38 L504.10,99.68 L504.98,98.03 L505.87,96.45 L506.75,94.91 L507.64,93.41 L508.52,91.95 L509.41,90.50 L510.29,89.05 L511.17,87.63 L512.06,86.26 L512.94,85.01 L513.83,83.87 L514.71,82.79 L515.59,81.77 L516.48,80.81 L517.36,79.91 L518.25,79.07 L519.13,78.32 L520.02,77.63 L520.90,76.97 L521.78,76.31 L522.67,75.63 L523.55,74.91 L524.44,74.17 L525.32,73.43 L526.21,72.66 L527.09,71.87 L527.97,71.03 L528.86,70.12 L529.74,69.06 L530.63,67.91 L531.51,66.77 L532.40,65.79 L533.28,64.98 L534.16,64.20 L535.05,63.45 L535.93,62.77 L536.82,62.21 L537.70,61.80 L538.59,61.57 L539.47,61.41 L540.35,61.27 L541.24,61.15 L542.12,61.05 L543.01,60.97 L543.89,60.92 L544.78,60.90 L545.66,60.97 L546.54,61.20 L547.43,61.57 L548.31,62.03 L549.20,62.55 L550.08,63.09 L550.97,63.63 L551.85,64.27 L552.73,65.02 L553.62,65.86 L554.50,66.76 L555.39,67.70 L556.27,68.67 L557.16,69.69 L558.04,70.80 L558.92,71.98 L559.81,73.21 L560.69,74.47 L561.58,75.75 L562.46,77.05 L563.35,78.39 L564.23,79.77 L565.11,81.19 L566.00,82.65 L566.88,84.17 L567.77,85.78 L568.65,87.50 L569.54,89.25 L570.42,91.00 L571.30,92.67 L572.19,94.30 L573.07,95.90 L573.96,97.49 L574.84,99.07 L575.73,100.64 L576.61,102.20 L577.49,103.76 L578.38,105.33 L579.26,106.91 L580.15,108.50 L581.03,110.11 L581.92,111.73 L582.80,113.35 L583.68,114.97 L584.57,116.58 L585.45,118.20 L586.34,119.82 L587.22,121.45 L588.11,123.10 L588.99,124.75 L589.87,126.43 L590.76,128.13 L591.64,129.85 L592.53,131.60 L593.41,133.38 L594.30,135.19 L595.18,137.07 L596.06,139.02 L596.95,141.02 L597.83,143.05 L598.72,145.09 L599.60,147.11 L600.49,149.09 L601.37,151.03 L602.25,152.96 L603.14,154.88 L604.02,156.79 L604.91,158.68 L605.79,160.54 L606.68,162.36 L607.56,164.13 L608.44,165.85 L609.33,167.55 L610.21,169.22 L611.10,170.86 L611.98,172.46 L612.87,174.04 L613.75,175.57 L614.63,177.07 L615.52,178.52 L616.40,179.94 L617.29,181.33 L618.17,182.69 L619.06,184.03 L619.94,185.33 L620.82,186.59 L621.71,187.83 L622.59,189.02 L623.48,190.19 L624.36,191.32 L625.25,192.43 L626.13,193.51 L627.01,194.57 L627.90,195.60 L628.78,196.61 L629.67,197.60 L630.55,198.56 L631.44,199.51 L632.32,200.44 L633.20,201.36 L634.09,202.25 L634.97,203.12 L635.86,203.98 L636.74,204.82 L637.63,205.65 L638.51,206.46 L639.39,207.25 L640.28,208.03 L641.16,208.80 L642.05,209.55 L642.93,210.28 L643.82,211.00 L644.70,211.70" fill="none" stroke="#ff7420" stroke-width="1.9" stroke-dasharray="3.7 2.6"/>
<path d="M380.30,230.30 L381.18,230.26 L382.07,230.17 L382.95,230.04 L383.83,229.87 L384.72,229.68 L385.60,229.46 L386.48,229.24 L387.37,229.00 L388.25,228.70 L389.13,228.34 L390.02,227.93 L390.90,227.47 L391.78,226.96 L392.67,226.41 L393.55,225.84 L394.43,225.22 L395.32,224.52 L396.20,223.73 L397.08,222.86 L397.97,221.92 L398.85,220.92 L399.73,219.86 L400.62,218.76 L401.50,217.61 L402.38,216.34 L403.27,214.97 L404.15,213.51 L405.03,211.97 L405.92,210.35 L406.80,208.67 L407.68,206.94 L408.56,205.13 L409.45,203.22 L410.33,201.19 L411.21,199.07 L412.10,196.87 L412.98,194.60 L413.86,192.28 L414.75,189.91 L415.63,187.48 L416.51,184.91 L417.40,182.23 L418.28,179.41 L419.16,176.39 L420.05,173.22 L420.93,170.02 L421.81,166.90 L422.70,163.81 L423.58,160.72 L424.46,157.63 L425.35,154.55 L426.23,151.48 L427.11,148.42 L428.00,145.37 L428.88,142.33 L429.76,139.32 L430.65,136.32 L431.53,133.33 L432.41,130.32 L433.30,127.31 L434.18,124.30 L435.06,121.31 L435.95,118.35 L436.83,115.43 L437.71,112.55 L438.60,109.73 L439.48,106.98 L440.36,104.31 L441.25,101.67 L442.13,99.04 L443.01,96.45 L443.90,93.89 L444.78,91.39 L445.66,88.94 L446.55,86.57 L447.43,84.28 L448.31,82.07 L449.20,79.97 L450.08,77.96 L450.96,75.98 L451.85,74.07 L452.73,72.22 L453.61,70.46 L454.50,68.80 L455.38,67.24 L456.26,65.81 L457.15,64.46 L458.03,63.15 L458.91,61.93 L459.79,60.87 L460.68,60.03 L461.56,59.43 L462.44,58.87 L463.33,58.37 L464.21,57.99 L465.09,57.75 L465.98,57.71 L466.86,57.88 L467.74,58.21 L468.63,58.66 L469.51,59.15 L470.39,59.65 L471.28,60.21 L472.16,60.87 L473.04,61.62 L473.93,62.43 L474.81,63.29 L475.69,64.19 L476.58,65.11 L477.46,66.11 L478.34,67.17 L479.23,68.30 L480.11,69.49 L480.99,70.73 L481.88,72.02 L482.76,73.35 L483.64,74.75 L484.53,76.21 L485.41,77.73 L486.29,79.31 L487.18,80.95 L488.06,82.64 L488.94,84.38 L489.83,86.17 L490.71,88.01 L491.59,89.92 L492.48,91.93 L493.36,94.03 L494.24,96.21 L495.13,98.45 L496.01,100.74 L496.89,103.06 L497.78,105.42 L498.66,107.78 L499.54,110.15 L500.43,112.56 L501.31,115.02 L502.19,117.52 L503.08,120.05 L503.96,122.62 L504.84,125.21 L505.73,127.81 L506.61,130.43 L507.49,133.10 L508.38,135.88 L509.26,138.72 L510.14,141.55 L511.03,144.31 L511.91,146.97 L512.79,149.45 L513.67,151.74 L514.56,153.94 L515.44,156.05 L516.32,158.08 L517.21,160.05 L518.09,161.98 L518.97,163.86 L519.86,165.71 L520.74,167.54 L521.62,169.35 L522.51,171.13 L523.39,172.88 L524.27,174.60 L525.16,176.29 L526.04,177.94 L526.92,179.56 L527.81,181.15 L528.69,182.70 L529.57,184.22 L530.46,185.70 L531.34,187.15 L532.22,188.57 L533.11,189.97 L533.99,191.34 L534.87,192.68 L535.76,194.00 L536.64,195.28 L537.52,196.54 L538.41,197.78 L539.29,198.98 L540.17,200.16 L541.06,201.33 L541.94,202.47 L542.82,203.60 L543.71,204.70 L544.59,205.78 L545.47,206.84 L546.36,207.87 L547.24,208.87 L548.12,209.84 L549.01,210.79 L549.89,211.70 L550.77,212.61 L551.66,213.50 L552.54,214.39 L553.42,215.26 L554.31,216.10 L555.19,216.91 L556.07,217.69 L556.96,218.42 L557.84,219.11 L558.72,219.75 L559.61,220.33 L560.49,220.88 L561.37,221.41 L562.26,221.92 L563.14,222.41 L564.02,222.87 L564.91,223.31 L565.79,223.73 L566.67,224.11 L567.55,224.47 L568.44,224.81 L569.32,225.11 L570.20,225.39 L571.09,225.66 L571.97,225.91 L572.85,226.16 L573.74,226.39 L574.62,226.60 L575.50,226.81 L576.39,226.99 L577.27,227.17 L578.15,227.33 L579.04,227.47 L579.92,227.61 L580.80,227.73 L581.69,227.85 L582.57,227.96 L583.45,228.07 L584.34,228.17 L585.22,228.27 L586.10,228.36 L586.99,228.44 L587.87,228.52 L588.75,228.60 L589.64,228.67 L590.52,228.74 L591.40,228.81 L592.29,228.87 L593.17,228.94 L594.05,229.00 L594.94,229.06 L595.82,229.12 L596.70,229.17 L597.59,229.23 L598.47,229.28 L599.35,229.33 L600.24,229.38 L601.12,229.42 L602.00,229.47 L602.89,229.51 L603.77,229.55 L604.65,229.59 L605.54,229.62 L606.42,229.66 L607.30,229.69 L608.19,229.72 L609.07,229.76 L609.95,229.79 L610.84,229.82 L611.72,229.85 L612.60,229.88 L613.49,229.90 L614.37,229.93 L615.25,229.96 L616.14,229.98 L617.02,230.01 L617.90,230.03 L618.78,230.06 L619.67,230.08 L620.55,230.10 L621.43,230.12 L622.32,230.14 L623.20,230.16 L624.08,230.18 L624.97,230.20 L625.85,230.22 L626.73,230.23 L627.62,230.25 L628.50,230.27 L629.38,230.29 L630.27,230.30 L631.15,230.32 L632.03,230.33 L632.92,230.35 L633.80,230.36 L634.68,230.38 L635.57,230.39 L636.45,230.41 L637.33,230.42 L638.22,230.43 L639.10,230.44 L639.98,230.45 L640.87,230.46 L641.75,230.47 L642.63,230.48 L643.52,230.49 L644.40,230.50" fill="none" stroke="#14dc14" stroke-width="2" stroke-linejoin="round"/>
<rect x="380.5" y="12.3" width="264.2" height="222.0" fill="none" stroke="#111" stroke-width="1.8"/>
<line x1="376.0" y1="230.50" x2="380.5" y2="230.50" stroke="#111" stroke-width="1.5"/>
<text x="372.9" y="236.1" font-size="15.8" text-anchor="end" font-weight="normal" fill="#111" >0</text>
<line x1="377.9" y1="208.65" x2="380.5" y2="208.65" stroke="#111" stroke-width="1.5"/>
<line x1="376.0" y1="186.80" x2="380.5" y2="186.80" stroke="#111" stroke-width="1.5"/>
<text x="372.9" y="192.4" font-size="15.8" text-anchor="end" font-weight="normal" fill="#111" >2</text>
<line x1="377.9" y1="164.95" x2="380.5" y2="164.95" stroke="#111" stroke-width="1.5"/>
<line x1="376.0" y1="143.10" x2="380.5" y2="143.10" stroke="#111" stroke-width="1.5"/>
<text x="372.9" y="148.7" font-size="15.8" text-anchor="end" font-weight="normal" fill="#111" >4</text>
<line x1="377.9" y1="121.25" x2="380.5" y2="121.25" stroke="#111" stroke-width="1.5"/>
<line x1="376.0" y1="99.40" x2="380.5" y2="99.40" stroke="#111" stroke-width="1.5"/>
<text x="372.9" y="105.0" font-size="15.8" text-anchor="end" font-weight="normal" fill="#111" >6</text>
<line x1="377.9" y1="77.55" x2="380.5" y2="77.55" stroke="#111" stroke-width="1.5"/>
<line x1="376.0" y1="55.70" x2="380.5" y2="55.70" stroke="#111" stroke-width="1.5"/>
<text x="372.9" y="61.3" font-size="15.8" text-anchor="end" font-weight="normal" fill="#111" >8</text>
<line x1="377.9" y1="33.85" x2="380.5" y2="33.85" stroke="#111" stroke-width="1.5"/>
<line x1="376.0" y1="12.00" x2="380.5" y2="12.00" stroke="#111" stroke-width="1.5"/>
<text x="372.9" y="17.6" font-size="15.8" text-anchor="end" font-weight="normal" fill="#111" >10</text>
<line x1="395.00" y1="234.3" x2="395.00" y2="238.8" stroke="#111" stroke-width="1.5"/>
<text x="395.0" y="255.3" font-size="15.8" text-anchor="middle" font-weight="normal" fill="#111" >400</text>
<line x1="431.70" y1="234.3" x2="431.70" y2="236.9" stroke="#111" stroke-width="1.5"/>
<line x1="468.40" y1="234.3" x2="468.40" y2="238.8" stroke="#111" stroke-width="1.5"/>
<text x="468.4" y="255.3" font-size="15.8" text-anchor="middle" font-weight="normal" fill="#111" >500</text>
<line x1="505.10" y1="234.3" x2="505.10" y2="236.9" stroke="#111" stroke-width="1.5"/>
<line x1="541.80" y1="234.3" x2="541.80" y2="238.8" stroke="#111" stroke-width="1.5"/>
<text x="541.8" y="255.3" font-size="15.8" text-anchor="middle" font-weight="normal" fill="#111" >600</text>
<line x1="578.50" y1="234.3" x2="578.50" y2="236.9" stroke="#111" stroke-width="1.5"/>
<line x1="615.20" y1="234.3" x2="615.20" y2="238.8" stroke="#111" stroke-width="1.5"/>
<text x="615.2" y="255.3" font-size="15.8" text-anchor="middle" font-weight="normal" fill="#111" >700</text>
<text x="513.5" y="275.9" font-size="19.6" text-anchor="middle" font-weight="normal" fill="#111" >Wavelength (nm)</text>
<text transform="translate(342.4,114.8) rotate(-90)" font-size="19.8" text-anchor="middle" fill="#111">Intensity (x 10<tspan font-size="13.6" dy="-6.2">6</tspan><tspan dy="6.2" font-size="1">&#8203;</tspan>)</text>
<line x1="438.5" y1="206.8" x2="465.5" y2="206.8" stroke="#14dc14" stroke-width="1.9"/>
<line x1="438.5" y1="224.3" x2="465.5" y2="224.3" stroke="#ff7420" stroke-width="1.9" stroke-dasharray="4.7 2.6"/>
<text x="469" y="211" font-size="12" text-anchor="start" font-weight="normal" fill="#111" >Rb<tspan font-size="8.0" dy="3.0">3</tspan><tspan dy="-3.0" font-size="1">&#8203;</tspan>InCl<tspan font-size="8.0" dy="3.0">6</tspan><tspan dy="-3.0" font-size="1">&#8203;</tspan>:Sb</text>
<text x="469" y="228.6" font-size="12" text-anchor="start" font-weight="normal" fill="#111" >Rb<tspan font-size="8.0" dy="3.0">2</tspan><tspan dy="-3.0" font-size="1">&#8203;</tspan>InCl<tspan font-size="8.0" dy="3.0">5</tspan><tspan dy="-3.0" font-size="1">&#8203;</tspan>(H<tspan font-size="8.0" dy="3.0">2</tspan><tspan dy="-3.0" font-size="1">&#8203;</tspan>O):Sb</text>
<g>
<polygon points="463.6,17.299999999999997 481.1,36.8 463.6,52.8 446.1,33.3" fill="#c9a2c6" stroke="#a885a8" stroke-width="0.5"/>
<polygon points="463.6,17.299999999999997 457.6,39.8 446.1,33.3" fill="#d4b2d0" opacity="0.9"/>
<polygon points="463.6,52.8 457.6,39.8 481.1,36.8" fill="#b98fb6" opacity="0.9"/>
<polygon points="463.6,17.299999999999997 457.6,39.8 481.1,36.8" fill="#c59cc2" opacity="0.9"/>
<circle cx="470.1" cy="30.799999999999997" r="2.2" fill="#8aa06a" stroke="#6f8a55" stroke-width="0.4"/>
<line x1="463.6" y1="34.8" x2="463.6" y2="17.299999999999997" stroke="#5fcf3a" stroke-width="1.1"/>
<line x1="463.6" y1="34.8" x2="463.6" y2="26.049999999999997" stroke="#c46cb8" stroke-width="1.1"/>
<line x1="463.6" y1="34.8" x2="463.6" y2="52.8" stroke="#5fcf3a" stroke-width="1.1"/>
<line x1="463.6" y1="34.8" x2="463.6" y2="43.8" stroke="#c46cb8" stroke-width="1.1"/>
<line x1="463.6" y1="34.8" x2="481.1" y2="36.8" stroke="#5fcf3a" stroke-width="1.1"/>
<line x1="463.6" y1="34.8" x2="472.35" y2="35.8" stroke="#c46cb8" stroke-width="1.1"/>
<line x1="463.6" y1="34.8" x2="457.6" y2="39.8" stroke="#5fcf3a" stroke-width="1.1"/>
<line x1="463.6" y1="34.8" x2="460.6" y2="37.3" stroke="#c46cb8" stroke-width="1.1"/>
<line x1="463.6" y1="34.8" x2="446.1" y2="33.3" stroke="#5fcf3a" stroke-width="1.1"/>
<line x1="463.6" y1="34.8" x2="454.85" y2="34.05" stroke="#c46cb8" stroke-width="1.1"/>
<circle cx="463.6" cy="34.8" r="4" fill="#cc7cc0" stroke="#9c5c98" stroke-width="0.5"/>
<circle cx="462.6" cy="33.599999999999994" r="1.6" fill="#efc2ea"/>
<circle cx="463.6" cy="17.299999999999997" r="2.3" fill="#4fe01c" stroke="#2fa50e" stroke-width="0.5"/>
<circle cx="463.1" cy="16.699999999999996" r="0.8" fill="#b6f79a"/>
<circle cx="463.6" cy="52.8" r="2.3" fill="#4fe01c" stroke="#2fa50e" stroke-width="0.5"/>
<circle cx="463.1" cy="52.199999999999996" r="0.8" fill="#b6f79a"/>
<circle cx="481.1" cy="36.8" r="2.3" fill="#4fe01c" stroke="#2fa50e" stroke-width="0.5"/>
<circle cx="480.6" cy="36.199999999999996" r="0.8" fill="#b6f79a"/>
<circle cx="457.6" cy="39.8" r="2.3" fill="#4fe01c" stroke="#2fa50e" stroke-width="0.5"/>
<circle cx="457.1" cy="39.199999999999996" r="0.8" fill="#b6f79a"/>
<circle cx="446.1" cy="33.3" r="2.3" fill="#4fe01c" stroke="#2fa50e" stroke-width="0.5"/>
<circle cx="445.6" cy="32.699999999999996" r="0.8" fill="#b6f79a"/>
</g>
<g>
<polygon points="551.0,17.299999999999997 568.5,36.8 551.0,52.8 533.5,33.3" fill="#c9a2c6" stroke="#a885a8" stroke-width="0.5"/>
<polygon points="551.0,17.299999999999997 545.0,39.8 533.5,33.3" fill="#d4b2d0" opacity="0.9"/>
<polygon points="551.0,52.8 545.0,39.8 568.5,36.8" fill="#b98fb6" opacity="0.9"/>
<polygon points="551.0,17.299999999999997 545.0,39.8 568.5,36.8" fill="#c59cc2" opacity="0.9"/>
<circle cx="557.5" cy="30.799999999999997" r="2.2" fill="#8aa06a" stroke="#6f8a55" stroke-width="0.4"/>
<line x1="551.0" y1="34.8" x2="551.0" y2="17.299999999999997" stroke="#5fcf3a" stroke-width="1.1"/>
<line x1="551.0" y1="34.8" x2="551.0" y2="26.049999999999997" stroke="#c46cb8" stroke-width="1.1"/>
<line x1="551.0" y1="34.8" x2="551.0" y2="52.8" stroke="#5fcf3a" stroke-width="1.1"/>
<line x1="551.0" y1="34.8" x2="551.0" y2="43.8" stroke="#c46cb8" stroke-width="1.1"/>
<line x1="551.0" y1="34.8" x2="568.5" y2="36.8" stroke="#5fcf3a" stroke-width="1.1"/>
<line x1="551.0" y1="34.8" x2="559.75" y2="35.8" stroke="#c46cb8" stroke-width="1.1"/>
<line x1="551.0" y1="34.8" x2="545.0" y2="39.8" stroke="#5fcf3a" stroke-width="1.1"/>
<line x1="551.0" y1="34.8" x2="548.0" y2="37.3" stroke="#c46cb8" stroke-width="1.1"/>
<line x1="551.0" y1="34.8" x2="535.0" y2="33.599999999999994" stroke="#c46cb8" stroke-width="1.1"/>
<circle cx="551.0" cy="34.8" r="4" fill="#cc7cc0" stroke="#9c5c98" stroke-width="0.5"/>
<circle cx="550.0" cy="33.599999999999994" r="1.6" fill="#efc2ea"/>
<circle cx="551.0" cy="17.299999999999997" r="2.3" fill="#4fe01c" stroke="#2fa50e" stroke-width="0.5"/>
<circle cx="550.5" cy="16.699999999999996" r="0.8" fill="#b6f79a"/>
<circle cx="551.0" cy="52.8" r="2.3" fill="#4fe01c" stroke="#2fa50e" stroke-width="0.5"/>
<circle cx="550.5" cy="52.199999999999996" r="0.8" fill="#b6f79a"/>
<circle cx="568.5" cy="36.8" r="2.3" fill="#4fe01c" stroke="#2fa50e" stroke-width="0.5"/>
<circle cx="568.0" cy="36.199999999999996" r="0.8" fill="#b6f79a"/>
<circle cx="545.0" cy="39.8" r="2.3" fill="#4fe01c" stroke="#2fa50e" stroke-width="0.5"/>
<circle cx="544.5" cy="39.199999999999996" r="0.8" fill="#b6f79a"/>
<line x1="536.3" y1="33.5" x2="533.0" y2="28.9" stroke="#d06060" stroke-width="0.9"/>
<line x1="536.3" y1="33.5" x2="533.0999999999999" y2="38.3" stroke="#d06060" stroke-width="0.9"/>
<circle cx="533.0" cy="28.9" r="1.4" fill="#f8e6e6" stroke="#c88" stroke-width="0.4"/>
<circle cx="533.0999999999999" cy="38.3" r="1.4" fill="#f8e6e6" stroke="#c88" stroke-width="0.4"/>
<circle cx="536.3" cy="33.5" r="1.7" fill="#d42424" stroke="#8a1010" stroke-width="0.4"/>
</g>
<path d="M484.5,32 L529.5,32 L523,28.8" stroke="#3d6fd0" stroke-width="1.5" fill="none" stroke-linejoin="miter"/>
<path d="M530,37.6 L484.5,37.6 L491,40.8" stroke="#3d6fd0" stroke-width="1.5" fill="none" stroke-linejoin="miter"/>
<text x="508.8" y="29.4" font-size="13.8" text-anchor="middle" font-weight="bold" fill="#0a0a0a" >H<tspan font-size="9.5" dy="2.8">2</tspan><tspan dy="-2.8" font-size="1">&#8203;</tspan>O</text>
<text x="511" y="50.8" font-size="13.8" text-anchor="middle" font-weight="bold" fill="#0a0a0a" >Cl<tspan font-size="13.5" dy="-3.2">-</tspan><tspan dy="3.2" font-size="1">&#8203;</tspan></text>
</g>
<g id="photo1" clip-path="url(#c1)">
<rect x="30.5" y="286.5" width="139.5" height="140" fill="url(#gp1)"/>
<g filter="url(#b1)">
<polygon points="94.3,381.7 89.1,382.5 86.0,380.0 87.7,375.9 90.1,374.1 95.5,373.9 95.1,377.2" fill="#162f88" opacity="0.84"/>
<polygon points="88.9,365.8 93.2,363.9 95.2,365.3 96.1,367.1 94.5,369.9 91.7,369.6 90.7,368.7" fill="#162f88" opacity="0.90"/>
<polygon points="91.8,373.1 88.1,374.4 85.6,372.2 86.9,368.4 88.9,365.4 93.3,366.0 93.9,370.7" fill="#162f88" opacity="0.90"/>
<polygon points="54.7,371.2 52.0,375.2 50.0,377.1 46.2,375.2 44.4,369.3 47.5,369.0 51.6,366.9" fill="#162f88" opacity="0.70"/>
<polygon points="88.8,357.9 87.1,360.5 82.7,364.1 80.8,361.6 79.6,356.8 81.4,354.1 86.0,353.0" fill="#162f88" opacity="0.85"/>
<polygon points="104.2,366.0 104.5,372.0 102.1,374.6 99.5,374.9 96.4,371.2 96.7,367.6 99.1,365.7" fill="#162f88" opacity="0.83"/>
<polygon points="82.1,386.1 86.2,385.9 87.3,388.0 84.1,392.4 80.5,393.0 78.0,391.6 77.8,386.8" fill="#162f88" opacity="0.87"/>
<polygon points="93.4,368.9 89.5,365.5 89.6,362.2 92.3,357.2 95.0,357.7 99.5,361.8 97.3,364.9" fill="#162f88" opacity="0.93"/>
<polygon points="90.3,374.0 86.2,373.3 83.4,371.2 82.3,367.6 86.1,364.2 89.5,362.6 90.8,369.2" fill="#162f88" opacity="0.91"/>
<polygon points="99.9,377.2 97.6,375.8 97.4,371.1 99.4,369.2 102.4,370.7 103.6,373.8 102.8,377.4" fill="#162f88" opacity="0.72"/>
<polygon points="110.1,360.3 109.6,363.9 107.0,366.5 103.9,366.0 102.7,362.7 103.4,358.1 106.1,358.1" fill="#162f88" opacity="0.80"/>
<polygon points="86.6,365.6 88.7,369.7 87.3,372.9 85.3,374.5 81.5,373.7 81.0,369.7 83.1,367.4" fill="#162f88" opacity="0.83"/>
<polygon points="70.8,358.3 72.3,353.1 77.5,353.9 80.5,354.7 83.0,360.0 77.7,363.2 74.4,362.2" fill="#162f88" opacity="0.91"/>
<polygon points="105.8,367.4 104.0,369.1 99.0,371.0 96.4,365.7 97.0,362.3 100.0,360.8 104.1,362.1" fill="#162f88" opacity="0.70"/>
<polygon points="108.2,350.6 103.7,349.5 101.0,345.7 105.3,341.9 107.9,340.3 111.1,345.3 112.3,348.1" fill="#162f88" opacity="0.86"/>
<polygon points="94.2,368.9 97.3,372.1 93.1,378.2 88.5,376.5 86.4,372.4 88.3,369.1 90.1,365.7" fill="#162f88" opacity="0.82"/>
<polygon points="88.0,382.6 90.4,385.4 88.9,391.9 85.1,392.8 80.8,391.8 79.8,385.8 82.8,383.7" fill="#162f88" opacity="0.68"/>
<polygon points="93.9,360.9 90.5,360.2 88.6,357.1 91.2,353.4 94.6,354.2 97.1,356.8 96.6,358.7" fill="#162f88" opacity="0.70"/>
<polygon points="88.1,366.3 91.5,365.4 93.5,368.3 91.3,371.8 88.2,372.5 85.4,370.8 86.0,367.1" fill="#162f88" opacity="0.83"/>
<polygon points="118.8,369.7 119.8,375.8 115.2,377.7 112.2,377.3 108.1,371.7 110.0,369.0 114.5,367.9" fill="#162f88" opacity="0.75"/>
<polygon points="93.9,356.4 98.0,351.0 103.0,352.3 105.3,355.0 105.3,358.0 100.9,362.8 97.0,359.2" fill="#162f88" opacity="0.74"/>
<polygon points="95.3,369.3 91.2,371.8 87.5,371.0 86.0,366.9 88.6,362.6 94.5,362.2 96.9,365.2" fill="#162f88" opacity="0.66"/>
<polygon points="91.3,379.2 93.0,375.6 96.2,376.2 98.9,378.7 97.2,381.2 95.6,384.3 92.2,382.2" fill="#162f88" opacity="0.66"/>
<polygon points="100.2,359.5 98.9,363.4 95.0,363.1 91.5,360.1 93.2,356.9 96.4,355.5 99.0,356.2" fill="#162f88" opacity="0.94"/>
<polygon points="101.6,359.1 100.7,363.3 97.6,363.3 94.2,364.3 94.8,358.8 95.9,356.1 99.0,356.6" fill="#162f88" opacity="0.84"/>
<polygon points="85.9,356.8 87.2,361.4 84.3,364.9 80.3,363.4 78.3,360.8 77.9,357.0 82.6,355.3" fill="#162f88" opacity="0.84"/>
<polygon points="98.1,358.9 101.6,356.4 104.8,358.0 107.6,360.2 106.5,364.6 101.2,365.6 97.9,362.6" fill="#162f88" opacity="0.72"/>
<polygon points="95.1,368.5 92.1,369.9 86.4,370.4 84.1,368.1 87.0,362.6 91.2,361.9 95.4,364.3" fill="#162f88" opacity="0.81"/>
<polygon points="81.8,359.8 80.9,363.3 79.3,366.9 74.7,366.3 72.9,361.3 75.0,359.6 78.5,357.9" fill="#162f88" opacity="0.66"/>
<polygon points="86.1,362.8 89.6,359.6 93.6,362.6 94.9,365.4 92.7,368.9 88.6,370.9 84.1,367.1" fill="#162f88" opacity="0.67"/>
<polygon points="72.4,352.7 75.4,348.6 77.5,349.2 82.1,350.7 80.6,355.4 77.2,356.1 73.6,355.7" fill="#162f88" opacity="0.86"/>
<polygon points="88.3,364.4 86.6,363.2 87.5,359.6 89.7,359.3 92.2,359.0 93.6,362.9 91.4,365.1" fill="#162f88" opacity="0.67"/>
<polygon points="81.4,360.8 82.5,355.7 85.0,352.2 88.0,355.3 89.6,358.3 88.0,360.6 85.2,361.8" fill="#162f88" opacity="0.83"/>
<polygon points="84.2,368.2 87.0,364.7 90.0,363.5 94.0,366.0 93.5,370.6 89.7,371.6 87.5,370.6" fill="#162f88" opacity="0.74"/>
<polygon points="78.8,373.7 81.5,368.3 85.0,369.4 87.1,371.0 88.1,373.6 86.0,376.3 82.4,375.1" fill="#162f88" opacity="0.88"/>
<polygon points="93.8,362.6 97.9,361.9 99.5,365.1 98.8,369.3 95.8,371.3 92.5,369.2 90.4,365.1" fill="#162f88" opacity="0.87"/>
<polygon points="85.2,367.8 88.3,365.8 90.7,365.9 93.6,368.6 90.1,372.1 88.1,374.6 84.5,370.8" fill="#162f88" opacity="0.71"/>
<polygon points="75.3,377.3 71.1,379.0 65.1,378.8 63.4,374.7 67.2,370.4 69.8,370.1 72.8,373.3" fill="#162f88" opacity="0.68"/>
<polygon points="86.6,381.2 82.8,381.6 81.4,377.6 81.9,374.0 85.9,371.3 89.4,375.0 89.9,378.3" fill="#162f88" opacity="0.91"/>
<polygon points="104.2,384.3 102.3,388.5 98.5,388.4 96.1,385.6 96.1,381.0 98.5,379.0 102.3,379.6" fill="#162f88" opacity="0.85"/>
<polygon points="96.2,357.1 98.8,359.0 98.8,361.6 98.3,364.1 94.0,362.9 91.9,359.7 94.0,358.4" fill="#162f88" opacity="0.81"/>
<polygon points="85.1,369.3 87.2,364.3 91.3,364.1 96.4,366.8 94.5,371.8 92.1,373.1 86.3,372.2" fill="#162f88" opacity="0.90"/>
<polygon points="87.7,367.0 90.9,365.4 94.9,367.2 95.5,369.2 94.8,374.5 90.6,373.1 88.4,371.5" fill="#162f88" opacity="0.89"/>
<polygon points="80.0,383.3 80.6,385.0 78.4,388.1 75.1,388.1 73.0,384.9 74.0,382.3 78.7,380.6" fill="#162f88" opacity="0.74"/>
<polygon points="85.3,366.4 86.5,361.3 89.2,360.6 93.6,361.7 94.5,364.3 93.3,369.1 88.5,367.7" fill="#162f88" opacity="0.78"/>
<polygon points="85.5,368.1 84.2,371.5 84.3,377.0 77.8,378.2 75.2,373.0 76.8,370.0 80.5,368.1" fill="#162f88" opacity="0.70"/>
<polygon points="118.0,371.6 114.4,372.4 109.3,368.2 107.3,365.6 112.1,360.7 117.6,362.7 120.8,367.9" fill="#162f88" opacity="0.78"/>
<polygon points="92.6,360.1 98.3,358.0 103.5,359.7 104.5,365.5 101.9,368.7 95.8,367.7 93.9,365.5" fill="#162f88" opacity="0.72"/>
<polygon points="84.8,359.4 84.7,356.2 89.2,352.5 91.1,352.1 93.4,355.0 92.8,360.3 89.0,360.7" fill="#162f88" opacity="0.74"/>
<polygon points="84.5,380.3 83.5,383.4 79.0,382.1 76.9,380.3 79.1,377.1 82.0,376.1 84.9,377.4" fill="#162f88" opacity="0.67"/>
<polygon points="87.4,360.9 88.9,362.1 88.0,364.6 85.1,366.4 81.7,365.5 81.5,362.4 82.9,359.9" fill="#162f88" opacity="0.92"/>
<polygon points="81.6,338.5 85.2,341.8 88.8,346.4 85.6,349.2 81.2,350.3 76.7,347.2 77.4,342.6" fill="#162f88" opacity="0.92"/>
<polygon points="95.4,364.2 94.7,369.8 90.6,371.0 88.3,366.8 86.7,362.7 90.7,360.7 95.4,360.9" fill="#162f88" opacity="0.70"/>
<polygon points="93.7,365.8 92.8,371.9 88.6,371.9 83.9,368.8 85.0,363.7 88.6,362.7 93.5,362.4" fill="#162f88" opacity="0.81"/>
<polygon points="76.7,378.1 73.5,377.1 72.5,375.5 74.1,370.9 77.3,370.0 79.9,371.0 80.9,375.9" fill="#162f88" opacity="0.73"/>
<polygon points="89.4,358.4 94.5,356.0 97.0,357.6 98.7,362.1 96.6,363.8 92.5,364.0 90.5,363.8" fill="#162f88" opacity="0.88"/>
<polygon points="82.6,369.5 83.8,367.1 86.8,363.7 91.0,366.6 93.1,372.0 89.0,373.6 85.0,373.2" fill="#162f88" opacity="0.70"/>
<polygon points="90.5,349.8 93.6,347.3 97.4,349.9 97.9,352.3 97.2,356.7 90.7,355.8 89.2,353.1" fill="#162f88" opacity="0.89"/>
<polygon points="96.7,343.9 99.2,345.5 102.5,350.0 101.9,354.2 98.6,354.3 94.6,352.5 92.3,350.0" fill="#162f88" opacity="0.66"/>
<polygon points="87.0,368.7 85.9,365.1 87.0,363.3 91.0,364.1 93.3,366.4 92.8,368.9 89.6,370.4" fill="#162f88" opacity="0.81"/>
<polygon points="73.3,377.7 70.6,379.8 68.1,377.8 67.6,374.1 70.0,373.1 72.0,373.5 74.3,374.8" fill="#162f88" opacity="0.67"/>
<polygon points="89.4,368.2 91.1,364.8 93.9,364.6 97.0,367.6 94.9,370.1 92.6,372.3 90.4,370.5" fill="#162f88" opacity="0.67"/>
<polygon points="96.4,367.4 95.3,369.5 89.9,370.2 88.9,366.4 89.7,363.0 93.3,360.0 96.5,362.2" fill="#162f88" opacity="0.74"/>
<polygon points="84.1,368.8 86.3,365.2 89.8,366.3 91.6,369.0 91.0,371.5 89.0,373.2 84.0,371.7" fill="#162f88" opacity="0.84"/>
<polygon points="90.1,365.8 85.9,367.7 83.2,366.5 80.6,363.8 82.4,359.4 86.4,360.2 90.5,361.6" fill="#162f88" opacity="0.69"/>
<polygon points="89.8,365.9 87.1,366.8 83.1,369.8 79.9,365.0 79.2,360.9 82.7,358.6 87.3,361.5" fill="#162f88" opacity="0.76"/>
<polygon points="96.3,372.7 93.4,371.8 88.8,369.1 90.0,365.6 95.7,363.3 97.4,366.3 98.7,370.2" fill="#162f88" opacity="0.88"/>
<polygon points="83.7,378.0 77.1,376.6 76.2,372.2 78.6,368.1 83.9,368.7 85.8,372.8 85.2,375.8" fill="#162f88" opacity="0.84"/>
<polygon points="80.6,365.7 83.4,367.2 85.3,372.1 82.5,375.1 77.6,374.6 75.4,372.8 77.1,367.7" fill="#162f88" opacity="0.78"/>
<polygon points="85.9,360.7 82.9,359.9 81.4,355.2 84.1,352.2 89.2,352.4 91.0,354.3 89.4,358.0" fill="#162f88" opacity="0.72"/>
<polygon points="90.3,361.5 91.6,363.7 91.6,366.8 88.6,368.8 85.4,368.1 84.0,365.6 86.6,363.1" fill="#162f88" opacity="0.78"/>
<polygon points="94.8,356.2 97.7,359.4 98.7,366.8 96.1,369.2 91.0,366.6 86.8,364.3 89.9,357.0" fill="#162f88" opacity="0.76"/>
<polygon points="89.4,369.2 86.5,364.0 89.1,361.3 93.9,360.3 95.1,363.3 95.8,367.2 93.9,368.3" fill="#162f88" opacity="0.69"/>
<polygon points="90.7,362.1 88.8,357.8 88.9,353.9 93.5,351.9 96.2,355.0 99.3,359.4 95.9,361.9" fill="#162f88" opacity="0.92"/>
<polygon points="93.7,353.1 96.3,354.7 97.8,358.7 93.6,361.2 89.5,359.9 87.6,355.2 90.1,351.8" fill="#162f88" opacity="0.68"/>
<polygon points="71.9,358.7 72.2,354.5 75.4,353.1 76.8,353.7 79.0,357.1 77.5,359.8 74.3,360.9" fill="#162f88" opacity="0.69"/>
<polygon points="93.8,361.8 93.6,364.3 89.0,364.3 88.0,361.4 88.7,358.3 91.4,357.5 93.9,357.6" fill="#162f88" opacity="0.91"/>
<polygon points="94.3,366.6 93.6,370.3 91.5,371.5 87.3,369.1 86.8,365.7 89.7,364.4 91.4,364.7" fill="#162f88" opacity="0.90"/>
<polygon points="103.8,372.6 102.3,376.7 98.6,378.9 93.9,375.3 91.7,371.1 94.8,369.8 100.4,368.9" fill="#162f88" opacity="0.94"/>
<polygon points="80.7,354.4 81.5,358.9 77.9,362.1 72.4,363.7 71.3,360.2 72.1,355.5 77.0,354.6" fill="#162f88" opacity="0.66"/>
<polygon points="53.3,320.8 55.1,323.4 54.3,328.4 50.0,329.3 44.8,327.3 46.2,322.8 49.3,319.2" fill="#193492" opacity="0.95"/>
<polygon points="121.3,314.8 118.4,314.9 114.4,312.9 115.6,308.6 116.0,305.8 121.4,306.1 122.8,309.1" fill="#193492" opacity="0.95"/>
<polygon points="113.6,318.4 114.8,320.3 110.5,322.6 108.2,321.5 107.0,317.7 108.6,315.8 112.2,314.7" fill="#193492" opacity="0.95"/>
<polygon points="157.2,311.0 154.4,310.2 154.7,308.2 156.0,305.4 158.0,304.0 160.6,306.8 159.9,309.9" fill="#193492" opacity="0.95"/>
<polygon points="92.0,329.2 87.5,327.4 82.5,322.8 87.6,316.8 91.7,317.2 95.0,321.4 95.2,325.5" fill="#193492" opacity="0.95"/>
<polygon points="93.3,323.9 98.5,323.1 100.1,327.0 102.6,330.1 98.4,334.0 95.2,332.8 92.0,329.5" fill="#193492" opacity="0.95"/>
<polygon points="86.7,316.4 87.5,318.6 88.3,322.2 85.2,323.7 82.4,322.3 80.5,319.1 82.4,316.8" fill="#193492" opacity="0.95"/>
<polygon points="69.2,340.9 66.1,337.9 67.7,333.6 70.8,332.1 73.6,333.4 75.4,336.0 71.7,339.6" fill="#193492" opacity="0.95"/>
<polygon points="81.7,343.8 79.0,342.3 75.4,340.0 78.2,335.6 83.4,334.9 86.0,338.1 85.1,342.2" fill="#193492" opacity="0.95"/>
<polygon points="116.6,332.9 118.2,328.5 120.9,324.6 124.7,327.0 125.1,332.8 124.2,337.2 118.4,337.5" fill="#193492" opacity="0.95"/>
<polygon points="124.2,333.4 126.1,330.9 130.7,332.2 131.4,334.3 129.9,337.2 125.7,339.1 124.3,337.7" fill="#193492" opacity="0.95"/>
<polygon points="42.1,350.6 43.8,346.3 47.8,345.0 51.7,345.5 51.5,350.1 50.1,352.0 45.2,353.6" fill="#193492" opacity="0.95"/>
<polygon points="43.5,355.4 45.7,353.2 48.5,351.0 53.1,352.8 53.0,356.6 49.6,358.5 46.8,358.3" fill="#193492" opacity="0.95"/>
<polygon points="62.1,356.9 60.5,354.8 60.3,353.5 61.0,351.0 63.5,351.0 65.0,353.0 65.2,356.0" fill="#193492" opacity="0.95"/>
<polygon points="139.7,353.2 135.0,353.7 132.0,353.5 131.7,348.2 134.3,345.1 138.0,346.3 141.6,347.3" fill="#193492" opacity="0.95"/>
<polygon points="125.7,349.5 126.0,352.8 123.6,354.4 119.9,352.9 120.6,349.9 121.2,348.2 123.6,348.7" fill="#193492" opacity="0.95"/>
<polygon points="117.5,364.2 115.5,360.0 118.3,355.8 122.3,356.0 125.5,357.4 127.2,361.9 122.9,366.4" fill="#193492" opacity="0.95"/>
<polygon points="111.1,355.6 113.2,353.3 118.0,353.1 118.6,355.6 120.0,359.3 116.8,360.9 112.8,360.6" fill="#193492" opacity="0.95"/>
<polygon points="112.0,348.4 108.1,349.0 103.9,344.3 105.7,339.6 109.3,336.0 115.1,338.3 117.1,345.9" fill="#193492" opacity="0.95"/>
<polygon points="102.5,332.6 105.9,333.1 108.1,337.1 107.5,338.9 104.5,341.1 101.5,339.6 99.9,336.5" fill="#193492" opacity="0.95"/>
<polygon points="100.6,341.5 99.2,346.9 97.0,351.1 91.2,348.9 90.0,346.2 92.7,341.0 94.9,337.7" fill="#193492" opacity="0.95"/>
<polygon points="77.3,353.1 74.5,352.4 71.3,350.2 72.5,347.4 75.0,346.9 78.2,346.7 79.9,349.2" fill="#193492" opacity="0.95"/>
<polygon points="111.4,370.4 110.7,375.3 109.3,377.5 103.6,376.5 101.5,371.7 105.0,367.4 111.3,367.4" fill="#193492" opacity="0.95"/>
<polygon points="65.1,369.2 64.4,371.8 60.7,375.5 57.5,374.4 55.1,370.9 56.9,368.0 59.3,365.2" fill="#193492" opacity="0.95"/>
<polygon points="52.6,368.8 54.8,369.8 55.1,371.5 54.1,373.3 51.8,374.5 50.1,372.2 49.7,369.1" fill="#193492" opacity="0.95"/>
<polygon points="60.8,383.6 59.8,380.6 64.1,377.2 68.1,376.9 70.1,378.6 69.0,382.8 65.8,386.4" fill="#193492" opacity="0.95"/>
<polygon points="81.3,384.3 85.1,386.3 87.6,390.6 85.7,393.0 79.7,393.7 75.4,388.7 76.9,385.1" fill="#193492" opacity="0.95"/>
<polygon points="95.9,383.2 100.5,385.2 105.6,388.6 106.8,393.0 102.7,397.3 96.9,393.7 93.6,388.4" fill="#193492" opacity="0.95"/>
<polygon points="112.0,394.3 108.4,395.4 104.7,394.5 103.9,391.5 107.2,388.6 109.0,389.0 111.2,390.9" fill="#193492" opacity="0.95"/>
<polygon points="112.0,382.0 114.6,379.7 117.8,379.8 119.2,383.3 118.6,385.1 116.3,387.7 113.3,385.5" fill="#193492" opacity="0.95"/>
<polygon points="126.9,383.9 129.0,380.8 131.8,380.3 136.1,383.6 134.9,388.1 129.3,388.2 127.9,387.2" fill="#193492" opacity="0.95"/>
<polygon points="126.0,393.1 124.1,395.9 122.5,396.4 120.1,394.2 119.8,391.2 121.7,390.2 125.0,391.0" fill="#193492" opacity="0.95"/>
<polygon points="109.3,403.6 106.5,405.9 104.6,404.4 102.5,402.4 104.1,399.2 107.9,399.8 109.5,400.3" fill="#193492" opacity="0.95"/>
<polygon points="84.6,397.5 86.8,396.0 91.1,396.7 91.6,398.8 90.0,402.1 86.5,402.5 84.3,401.3" fill="#193492" opacity="0.95"/>
<polygon points="73.5,407.4 75.5,405.2 77.3,405.1 78.4,407.4 78.5,409.0 76.8,410.1 74.1,409.7" fill="#193492" opacity="0.95"/>
<polygon points="65.6,392.6 67.2,391.9 68.8,392.1 69.6,393.5 68.4,394.8 67.5,395.6 65.7,394.6" fill="#193492" opacity="0.95"/>
<polygon points="109.1,353.3 107.7,348.8 111.0,346.4 113.4,345.1 116.9,346.8 117.5,350.4 114.9,354.1" fill="#193492" opacity="0.95"/>
<polygon points="113.5,362.5 118.9,362.2 120.2,365.2 119.3,368.4 116.8,370.4 113.1,368.0 111.5,365.2" fill="#193492" opacity="0.95"/>
<polygon points="69.4,382.1 71.9,381.2 75.1,383.1 75.0,385.8 73.1,387.9 69.7,387.5 68.5,384.3" fill="#193492" opacity="0.95"/>
</g>
<g filter="url(#b1)" opacity="0.55">
<circle cx="50.7" cy="325.0" r="2.1" fill="#10276e"/>
<circle cx="119.1" cy="311.0" r="1.9" fill="#10276e"/>
<circle cx="111.3" cy="319.20000000000005" r="1.6" fill="#10276e"/>
<circle cx="90.8" cy="324.1" r="2.8" fill="#10276e"/>
<circle cx="97.3" cy="328.90000000000003" r="2.1" fill="#10276e"/>
<circle cx="85.5" cy="320.6" r="1.8" fill="#10276e"/>
<circle cx="71.2" cy="336.40000000000003" r="2.1" fill="#10276e"/>
<circle cx="82.5" cy="340.3" r="2.2" fill="#10276e"/>
<circle cx="121.5" cy="332.20000000000005" r="2.5" fill="#10276e"/>
<circle cx="128.2" cy="335.5" r="1.6" fill="#10276e"/>
<circle cx="48.4" cy="349.6" r="2.1" fill="#10276e"/>
<circle cx="49.0" cy="355.6" r="2.0" fill="#10276e"/>
<circle cx="136.4" cy="350.1" r="2.1" fill="#10276e"/>
<circle cx="121.5" cy="360.6" r="2.5" fill="#10276e"/>
<circle cx="116.5" cy="357.6" r="1.8" fill="#10276e"/>
<circle cx="110.5" cy="343.6" r="2.8" fill="#10276e"/>
<circle cx="104.5" cy="337.6" r="2.0" fill="#10276e"/>
<circle cx="95.5" cy="345.20000000000005" r="2.4" fill="#10276e"/>
<circle cx="76.1" cy="350.1" r="1.6" fill="#10276e"/>
<circle cx="108.5" cy="372.6" r="2.2" fill="#10276e"/>
<circle cx="59.8" cy="371.3" r="2.1" fill="#10276e"/>
<circle cx="66.3" cy="381.1" r="2.1" fill="#10276e"/>
<circle cx="82.5" cy="389.20000000000005" r="2.2" fill="#10276e"/>
<circle cx="100.5" cy="390.6" r="2.8" fill="#10276e"/>
<circle cx="108.5" cy="392.6" r="1.9" fill="#10276e"/>
<circle cx="116.8" cy="383.6" r="1.6" fill="#10276e"/>
<circle cx="130.8" cy="385.0" r="2.0" fill="#10276e"/>
<circle cx="113.5" cy="349.6" r="2.0" fill="#10276e"/>
<circle cx="116.5" cy="366.6" r="1.8" fill="#10276e"/>
<polygon points="85.8,370.9 82.9,367.9 83.1,364.4 87.2,363.1 89.5,365.2 91.2,366.8 88.1,370.8" fill="#0f2468"/>
<polygon points="89.8,366.3 91.5,363.1 93.9,362.4 96.2,364.1 95.5,367.4 93.4,369.4 91.8,369.2" fill="#0f2468"/>
<polygon points="98.4,356.7 100.7,359.2 100.0,361.8 97.2,363.8 95.1,362.8 94.6,359.1 96.3,356.6" fill="#0f2468"/>
<polygon points="95.3,370.7 91.9,369.1 92.5,366.5 94.4,364.1 96.9,364.8 97.7,367.3 97.6,369.9" fill="#0f2468"/>
<polygon points="87.8,353.6 87.1,355.2 84.8,354.6 83.3,353.1 85.1,350.6 86.9,350.9 88.9,351.9" fill="#0f2468"/>
<polygon points="92.6,371.6 91.0,373.0 88.9,372.5 88.2,371.1 88.9,368.9 90.1,368.1 91.9,368.4" fill="#0f2468"/>
<polygon points="77.1,367.2 77.4,364.8 78.6,363.2 82.2,363.5 84.2,364.5 81.9,368.2 79.9,369.9" fill="#0f2468"/>
<polygon points="83.3,366.8 87.2,366.7 89.7,368.8 88.3,371.0 86.5,373.6 82.6,372.0 82.8,369.4" fill="#0f2468"/>
<polygon points="93.7,364.0 95.7,366.4 95.2,369.4 94.0,371.7 90.2,370.6 88.9,367.2 90.2,365.2" fill="#0f2468"/>
<polygon points="80.0,370.5 81.7,372.2 81.5,374.0 78.8,374.1 77.7,373.8 77.3,371.9 78.4,370.4" fill="#0f2468"/>
<polygon points="90.9,370.1 89.1,372.2 86.6,368.9 87.1,366.9 88.1,363.9 92.7,365.3 92.6,367.3" fill="#0f2468"/>
<polygon points="93.2,376.4 89.8,376.5 89.1,372.8 88.6,370.0 93.4,368.8 96.0,371.5 96.3,374.1" fill="#0f2468"/>
<polygon points="94.9,362.4 93.4,360.8 93.3,359.6 95.2,358.1 97.6,358.4 98.6,361.0 97.1,362.5" fill="#0f2468"/>
<polygon points="94.2,364.0 95.7,365.1 95.4,368.1 93.4,369.7 90.7,368.5 89.4,366.1 91.6,363.8" fill="#0f2468"/>
<polygon points="94.7,362.5 95.5,359.8 96.6,359.2 98.5,358.7 100.2,361.4 98.4,362.4 97.0,363.8" fill="#0f2468"/>
<polygon points="83.6,359.1 86.4,360.0 85.9,363.6 84.7,366.7 81.5,366.4 80.8,362.1 81.2,360.5" fill="#0f2468"/>
<polygon points="91.7,372.7 88.1,371.5 88.3,369.2 90.1,366.8 92.8,366.6 94.6,368.0 93.6,372.0" fill="#0f2468"/>
<polygon points="92.7,365.3 92.3,366.5 90.4,367.7 89.2,368.1 88.4,365.8 89.0,364.8 90.2,364.0" fill="#0f2468"/>
<polygon points="81.6,368.4 79.8,366.5 80.8,364.6 82.0,362.8 84.3,364.7 85.0,367.5 83.0,368.0" fill="#0f2468"/>
<polygon points="86.1,361.1 87.3,359.9 88.5,361.4 89.9,363.9 87.9,364.3 86.5,364.1 85.6,362.4" fill="#0f2468"/>
<polygon points="88.3,364.2 87.9,366.3 84.0,365.7 80.8,365.0 81.2,361.7 84.4,359.9 87.3,361.2" fill="#0f2468"/>
<polygon points="97.8,366.5 100.6,366.7 103.0,368.0 102.6,371.2 100.2,372.0 97.8,370.9 96.5,368.9" fill="#0f2468"/>
<polygon points="84.2,367.3 82.9,362.5 85.3,361.1 89.4,359.8 90.3,361.8 90.1,365.8 86.7,367.7" fill="#0f2468"/>
<polygon points="94.2,368.4 92.7,365.9 94.0,364.1 95.3,363.9 97.6,364.4 98.2,366.9 96.2,368.7" fill="#0f2468"/>
<polygon points="85.3,358.1 86.6,356.9 89.8,357.7 92.0,359.1 90.3,362.8 88.3,362.6 85.5,361.8" fill="#0f2468"/>
<polygon points="90.2,367.8 89.1,365.0 91.1,363.7 93.4,364.8 94.5,366.6 93.2,368.1 91.8,369.3" fill="#0f2468"/>
<polygon points="85.2,356.3 83.7,357.2 82.0,355.4 82.1,352.8 84.6,351.9 86.5,352.8 86.3,355.0" fill="#0f2468"/>
<polygon points="87.1,376.7 85.1,376.0 81.3,373.8 82.1,370.6 86.0,369.4 87.8,370.1 89.5,373.0" fill="#0f2468"/>
<polygon points="83.6,365.2 80.0,363.0 80.0,361.2 81.7,359.0 85.4,358.5 86.0,361.8 85.9,364.3" fill="#0f2468"/>
<polygon points="86.2,364.1 87.0,362.7 89.3,362.6 90.4,365.0 88.6,366.5 86.9,366.6 85.3,365.8" fill="#0f2468"/>
<polygon points="91.4,363.7 89.5,363.1 88.6,360.1 90.4,359.8 93.5,359.5 94.4,361.2 93.6,363.4" fill="#0f2468"/>
<polygon points="85.9,368.7 83.8,370.4 82.6,371.1 80.7,370.3 80.1,368.3 81.8,366.4 84.1,366.5" fill="#0f2468"/>
<polygon points="90.2,366.0 92.3,364.3 94.4,365.7 95.9,368.3 94.0,370.6 90.9,370.1 89.6,368.9" fill="#0f2468"/>
<polygon points="93.7,368.9 90.3,369.9 88.9,366.0 90.4,364.8 92.7,362.7 94.9,365.0 95.2,367.7" fill="#0f2468"/>
</g>
</g>
<g id="photo2" clip-path="url(#c2)">
<rect x="266" y="286.5" width="139.5" height="140" fill="#1b2a9a"/>
<ellipse cx="340" cy="352" rx="52" ry="46" fill="#2b31ad" opacity="0.45" filter="url(#b6)"/>
<g filter="url(#b3)" fill="#e8702a" opacity="0.55">
<ellipse cx="323.7" cy="304.6" rx="4.2" ry="4.2"/>
<ellipse cx="341.0" cy="304.9" rx="1.9" ry="1.9"/>
<ellipse cx="291.0" cy="322.8" rx="3.2" ry="3.2"/>
<ellipse cx="313.9" cy="318.6" rx="5.4" ry="5.9"/>
<ellipse cx="332.8" cy="317.0" rx="4.1" ry="4.1"/>
<ellipse cx="340.3" cy="318.0" rx="4.1" ry="4.1"/>
<ellipse cx="337.7" cy="313.0" rx="2.5" ry="2.5"/>
<ellipse cx="372.5" cy="317.6" rx="6.2" ry="5.3"/>
<ellipse cx="363.0" cy="320.9" rx="2.9" ry="2.9"/>
<ellipse cx="328.9" cy="327.4" rx="3.9" ry="3.9"/>
<ellipse cx="339.3" cy="332.6" rx="3.9" ry="3.9"/>
<ellipse cx="349.0" cy="330.6" rx="4.5" ry="4.0"/>
<ellipse cx="355.6" cy="336.5" rx="3.5" ry="3.5"/>
<ellipse cx="371.9" cy="328.3" rx="2.9" ry="2.9"/>
<ellipse cx="369.6" cy="337.1" rx="5.5" ry="4.1"/>
<ellipse cx="360.5" cy="342.0" rx="3.2" ry="3.2"/>
<ellipse cx="349.0" cy="342.0" rx="3.2" ry="3.2"/>
<ellipse cx="352.3" cy="346.9" rx="4.1" ry="4.1"/>
<ellipse cx="380.0" cy="346.3" rx="3.9" ry="5.1"/>
<ellipse cx="306.0" cy="345.6" rx="3.5" ry="3.1"/>
<ellipse cx="324.6" cy="347.9" rx="6.5" ry="5.9"/>
<ellipse cx="335.0" cy="353.8" rx="5.9" ry="5.9"/>
<ellipse cx="318.0" cy="356.0" rx="6.5" ry="5.2"/>
<ellipse cx="345.8" cy="355.0" rx="5.3" ry="5.3"/>
<ellipse cx="324.6" cy="363.5" rx="6.9" ry="5.5"/>
<ellipse cx="310.0" cy="362.5" rx="4.1" ry="4.1"/>
<ellipse cx="342.5" cy="361.6" rx="5.4" ry="5.4"/>
<ellipse cx="336.0" cy="368.0" rx="5.9" ry="5.3"/>
<ellipse cx="347.4" cy="370.0" rx="5.3" ry="5.3"/>
<ellipse cx="357.2" cy="369.0" rx="5.3" ry="5.3"/>
<ellipse cx="365.3" cy="362.5" rx="4.1" ry="4.9"/>
<ellipse cx="366.3" cy="371.3" rx="2.9" ry="2.9"/>
<ellipse cx="327.9" cy="371.3" rx="5.3" ry="5.3"/>
<ellipse cx="313.2" cy="373.3" rx="5.3" ry="5.3"/>
<ellipse cx="301.2" cy="370.7" rx="2.9" ry="2.9"/>
<ellipse cx="322.0" cy="380.5" rx="4.7" ry="4.7"/>
<ellipse cx="342.5" cy="376.6" rx="4.7" ry="4.2"/>
<ellipse cx="354.6" cy="376.6" rx="4.1" ry="4.1"/>
<ellipse cx="358.8" cy="364.0" rx="3.5" ry="3.5"/>
<ellipse cx="351.3" cy="363.5" rx="3.5" ry="3.5"/>
<ellipse cx="271.9" cy="378.8" rx="1.9" ry="1.9"/>
<ellipse cx="331.0" cy="360.0" rx="4.4" ry="4.4"/>
<ellipse cx="339.0" cy="374.0" rx="3.9" ry="3.9"/>
<ellipse cx="342.0" cy="367.4" rx="3.1" ry="3.1"/>
<ellipse cx="342.2" cy="374.5" rx="3.5" ry="3.5"/>
<ellipse cx="344.3" cy="353.8" rx="2.8" ry="2.8"/>
<ellipse cx="339.4" cy="363.8" rx="2.9" ry="2.9"/>
<ellipse cx="317.2" cy="359.5" rx="2.8" ry="2.8"/>
<ellipse cx="339.2" cy="370.2" rx="2.6" ry="2.6"/>
<ellipse cx="340.2" cy="363.7" rx="3.2" ry="3.2"/>
<ellipse cx="367.8" cy="364.1" rx="2.9" ry="2.9"/>
<ellipse cx="310.4" cy="367.6" rx="2.9" ry="2.9"/>
<ellipse cx="351.8" cy="373.9" rx="3.5" ry="3.5"/>
<ellipse cx="348.5" cy="368.7" rx="3.2" ry="3.2"/>
<ellipse cx="334.0" cy="367.9" rx="3.1" ry="3.1"/>
<ellipse cx="349.3" cy="377.9" rx="2.8" ry="2.8"/>
<ellipse cx="339.3" cy="360.0" rx="2.8" ry="2.8"/>
<ellipse cx="357.4" cy="359.5" rx="3.4" ry="3.4"/>
<ellipse cx="324.4" cy="361.3" rx="3.4" ry="3.4"/>
<ellipse cx="358.0" cy="372.6" rx="2.7" ry="2.7"/>
<ellipse cx="341.7" cy="362.5" rx="3.6" ry="3.6"/>
<ellipse cx="328.8" cy="368.4" rx="3.0" ry="3.0"/>
<ellipse cx="350.3" cy="362.3" rx="3.0" ry="3.0"/>
<ellipse cx="357.6" cy="363.5" rx="3.7" ry="3.7"/>
<ellipse cx="324.8" cy="365.8" rx="3.1" ry="3.1"/>
<ellipse cx="337.9" cy="364.0" rx="3.2" ry="3.2"/>
<ellipse cx="328.0" cy="363.1" rx="3.2" ry="3.2"/>
<ellipse cx="340.8" cy="367.1" rx="3.6" ry="3.6"/>
<ellipse cx="331.1" cy="370.5" rx="3.2" ry="3.2"/>
<ellipse cx="336.5" cy="366.5" rx="3.5" ry="3.5"/>
<ellipse cx="338.6" cy="362.1" rx="2.9" ry="2.9"/>
<ellipse cx="332.1" cy="357.2" rx="3.6" ry="3.6"/>
<ellipse cx="314.1" cy="375.8" rx="3.7" ry="3.7"/>
</g>
<g filter="url(#b2)">
<polygon points="327.2,305.1 325.2,308.1 322.0,306.6 320.9,303.9 322.3,301.9 325.8,302.6" fill="#ffd82e" stroke="#ffac1c" stroke-width="0.6"/>
<polygon points="341.8,305.2 341.2,306.0 340.1,305.4 340.2,304.4 341.1,303.9 341.7,304.2" fill="#ffd82e" stroke="#ffac1c" stroke-width="0.6"/>
<polygon points="291.3,320.6 293.0,321.4 292.5,324.5 290.5,324.6 289.2,323.6 289.0,321.4" fill="#ffd82e" stroke="#ffac1c" stroke-width="0.6"/>
<polygon points="317.4,322.1 314.4,324.1 309.3,320.9 309.9,315.4 314.7,314.0 318.0,315.0" fill="#ffd82e" stroke="#ffac1c" stroke-width="0.6"/>
<polygon points="330.6,319.5 329.7,316.3 332.1,313.6 335.4,314.2 335.4,317.5 332.9,320.8" fill="#ffd82e" stroke="#ffac1c" stroke-width="0.6"/>
<polygon points="337.2,319.0 337.4,315.9 340.2,314.2 342.8,316.9 342.4,319.9 339.1,321.2" fill="#ffd82e" stroke="#ffac1c" stroke-width="0.6"/>
<polygon points="339.4,312.9 338.2,314.8 336.7,314.0 336.1,313.1 337.2,311.7 338.6,311.9" fill="#ffd82e" stroke="#ffac1c" stroke-width="0.6"/>
<polygon points="366.5,317.0 369.8,314.4 375.5,314.2 378.5,318.3 375.8,320.8 370.6,321.5" fill="#ffd82e" stroke="#ffac1c" stroke-width="0.6"/>
<polygon points="362.5,322.5 361.2,321.2 361.3,319.4 363.1,318.8 365.1,320.7 364.4,321.9" fill="#ffd82e" stroke="#ffac1c" stroke-width="0.6"/>
<polygon points="325.4,327.0 328.0,324.3 330.8,325.3 332.0,329.0 329.6,330.0 327.1,329.8" fill="#ffd82e" stroke="#ffac1c" stroke-width="0.6"/>
<polygon points="336.7,334.5 336.8,331.9 338.1,330.1 340.8,330.5 342.1,333.6 339.4,335.1" fill="#ffd82e" stroke="#ffac1c" stroke-width="0.6"/>
<polygon points="346.5,329.3 349.3,327.2 352.5,328.6 352.8,331.8 349.1,333.4 345.8,332.3" fill="#ffd82e" stroke="#ffac1c" stroke-width="0.6"/>
<polygon points="353.0,337.6 353.0,336.0 355.0,334.5 358.3,335.0 358.1,337.6 356.3,338.6" fill="#ffd82e" stroke="#ffac1c" stroke-width="0.6"/>
<polygon points="373.0,329.5 371.1,330.2 370.1,328.6 370.9,326.8 372.6,326.4 374.1,328.1" fill="#ffd82e" stroke="#ffac1c" stroke-width="0.6"/>
<polygon points="365.4,337.0 367.9,334.0 371.4,334.6 375.0,336.9 370.6,340.7 367.3,340.2" fill="#ffd82e" stroke="#ffac1c" stroke-width="0.6"/>
<polygon points="362.2,342.9 361.2,343.8 359.3,343.8 358.1,341.1 360.0,339.5 361.7,340.5" fill="#ffd82e" stroke="#ffac1c" stroke-width="0.6"/>
<polygon points="350.7,340.2 351.2,342.3 349.7,344.0 347.2,343.5 346.8,341.3 348.6,339.8" fill="#ffd82e" stroke="#ffac1c" stroke-width="0.6"/>
<polygon points="355.0,345.8 354.6,348.8 351.8,349.8 349.2,347.3 350.0,344.3 352.6,344.3" fill="#ffd82e" stroke="#ffac1c" stroke-width="0.6"/>
<polygon points="379.6,351.6 377.5,347.4 378.8,343.1 381.2,342.5 382.6,344.8 382.4,349.4" fill="#ffd82e" stroke="#ffac1c" stroke-width="0.6"/>
<polygon points="305.2,343.8 307.6,344.3 308.4,345.8 306.2,347.5 304.6,347.9 303.8,345.3" fill="#ffd82e" stroke="#ffac1c" stroke-width="0.6"/>
<polygon points="323.8,343.4 328.9,345.0 329.9,350.5 325.6,353.7 320.2,350.6 319.2,346.1" fill="#ffd82e" stroke="#ffac1c" stroke-width="0.6"/>
<polygon points="336.1,358.2 330.9,355.5 331.2,351.0 334.7,348.4 339.1,349.8 338.8,356.2" fill="#ffd82e" stroke="#ffac1c" stroke-width="0.6"/>
<polygon points="318.2,351.9 322.2,353.8 321.7,359.2 318.2,359.6 313.4,356.5 313.7,353.1" fill="#ffd82e" stroke="#ffac1c" stroke-width="0.6"/>
<polygon points="343.8,358.7 341.4,355.0 343.7,350.6 348.2,351.0 350.4,355.6 347.2,359.5" fill="#ffd82e" stroke="#ffac1c" stroke-width="0.6"/>
<polygon points="329.4,364.5 325.2,367.8 319.2,367.1 320.2,361.9 323.3,358.7 329.1,359.4" fill="#ffd82e" stroke="#ffac1c" stroke-width="0.6"/>
<polygon points="308.5,359.4 312.8,360.5 313.7,362.7 310.5,365.2 308.7,365.0 306.6,362.6" fill="#ffd82e" stroke="#ffac1c" stroke-width="0.6"/>
<polygon points="337.9,361.2 340.5,358.5 344.3,356.6 347.8,360.8 344.9,366.3 340.7,365.4" fill="#ffd82e" stroke="#ffac1c" stroke-width="0.6"/>
<polygon points="331.2,370.2 330.5,367.0 336.1,363.7 340.0,366.0 339.6,369.8 337.4,373.0" fill="#ffd82e" stroke="#ffac1c" stroke-width="0.6"/>
<polygon points="351.0,368.4 351.4,371.7 346.3,374.6 342.9,372.6 342.8,368.2 348.4,364.9" fill="#ffd82e" stroke="#ffac1c" stroke-width="0.6"/>
<polygon points="352.7,368.8 356.2,364.1 360.7,366.0 361.3,370.7 359.1,373.0 353.4,372.3" fill="#ffd82e" stroke="#ffac1c" stroke-width="0.6"/>
<polygon points="363.9,358.3 368.0,360.2 368.7,363.8 366.4,366.8 362.3,365.1 361.9,361.2" fill="#ffd82e" stroke="#ffac1c" stroke-width="0.6"/>
<polygon points="368.0,369.9 368.6,372.0 366.9,373.6 365.2,373.2 364.5,371.0 365.5,369.6" fill="#ffd82e" stroke="#ffac1c" stroke-width="0.6"/>
<polygon points="327.7,375.0 323.9,371.9 323.6,368.3 328.6,367.0 331.4,369.3 330.8,373.5" fill="#ffd82e" stroke="#ffac1c" stroke-width="0.6"/>
<polygon points="311.6,369.1 316.2,370.2 318.2,373.0 315.6,377.4 310.8,376.0 308.0,372.3" fill="#ffd82e" stroke="#ffac1c" stroke-width="0.6"/>
<polygon points="299.6,372.4 299.3,370.2 300.1,368.6 302.9,369.0 303.2,370.7 301.7,372.4" fill="#ffd82e" stroke="#ffac1c" stroke-width="0.6"/>
<polygon points="320.2,383.0 319.0,380.9 321.2,377.5 323.6,376.5 325.3,380.2 323.0,383.8" fill="#ffd82e" stroke="#ffac1c" stroke-width="0.6"/>
<polygon points="340.6,373.3 343.9,373.1 346.0,377.1 345.0,379.5 339.8,379.4 339.0,376.1" fill="#ffd82e" stroke="#ffac1c" stroke-width="0.6"/>
<polygon points="352.5,373.5 355.6,374.2 357.8,375.1 356.3,379.2 353.9,379.1 350.9,377.5" fill="#ffd82e" stroke="#ffac1c" stroke-width="0.6"/>
<polygon points="359.0,361.2 360.8,363.0 360.0,365.9 358.0,366.5 356.8,365.0 357.2,362.6" fill="#ffd82e" stroke="#ffac1c" stroke-width="0.6"/>
<polygon points="352.7,365.3 351.2,365.6 349.3,364.3 349.8,361.7 352.2,361.4 353.3,362.9" fill="#ffd82e" stroke="#ffac1c" stroke-width="0.6"/>
<polygon points="272.5,377.8 272.9,378.9 272.2,379.8 271.3,379.6 270.8,378.7 271.5,377.8" fill="#ffd82e" stroke="#ffac1c" stroke-width="0.6"/>
<polygon points="330.1,356.8 333.6,357.2 334.7,360.0 332.1,362.8 329.4,362.7 328.0,359.8" fill="#ffd82e" stroke="#ffac1c" stroke-width="0.6"/>
<polygon points="337.2,377.1 336.0,373.8 338.1,371.8 340.1,371.6 341.8,374.2 340.1,377.2" fill="#ffd82e" stroke="#ffac1c" stroke-width="0.6"/>
<polygon points="344.1,367.1 343.3,368.9 341.6,369.0 340.0,367.8 341.0,365.7 343.1,365.3" fill="#ffd82e" stroke="#ffac1c" stroke-width="0.6"/>
<polygon points="344.9,373.9 344.3,376.0 342.3,376.6 339.4,375.1 339.8,372.8 342.7,372.3" fill="#ffd82e" stroke="#ffac1c" stroke-width="0.6"/>
<polygon points="345.6,355.1 343.4,355.9 342.1,354.3 343.0,352.2 345.3,352.0 346.2,353.3" fill="#ffd82e" stroke="#ffac1c" stroke-width="0.6"/>
<polygon points="341.4,362.9 341.3,364.6 339.2,365.7 337.4,364.8 338.1,362.7 339.7,362.0" fill="#ffd82e" stroke="#ffac1c" stroke-width="0.6"/>
<polygon points="315.3,360.5 316.0,357.6 317.7,358.0 318.7,358.7 318.3,361.1 316.6,361.5" fill="#ffd82e" stroke="#ffac1c" stroke-width="0.6"/>
<polygon points="340.3,368.7 341.0,370.4 339.8,371.6 338.1,371.5 337.8,370.2 338.6,368.9" fill="#ffd82e" stroke="#ffac1c" stroke-width="0.6"/>
<polygon points="339.5,365.8 337.9,364.5 338.4,362.2 340.8,361.8 342.4,363.1 341.7,365.3" fill="#ffd82e" stroke="#ffac1c" stroke-width="0.6"/>
<polygon points="366.0,365.1 366.2,363.9 367.3,362.5 369.2,362.8 369.5,365.1 368.1,365.9" fill="#ffd82e" stroke="#ffac1c" stroke-width="0.6"/>
<polygon points="308.5,368.4 308.9,366.3 310.7,365.7 312.3,367.3 311.6,369.2 309.7,369.9" fill="#ffd82e" stroke="#ffac1c" stroke-width="0.6"/>
<polygon points="351.6,371.1 354.6,372.9 353.9,375.3 351.7,376.8 348.9,374.6 349.8,372.0" fill="#ffd82e" stroke="#ffac1c" stroke-width="0.6"/>
<polygon points="345.9,368.2 347.9,366.0 350.0,366.6 350.6,368.7 349.3,370.8 347.5,370.4" fill="#ffd82e" stroke="#ffac1c" stroke-width="0.6"/>
<polygon points="332.6,369.7 331.7,367.6 333.7,365.9 335.6,366.3 335.8,368.1 335.2,370.1" fill="#ffd82e" stroke="#ffac1c" stroke-width="0.6"/>
<polygon points="351.2,378.8 350.2,380.0 348.0,378.9 347.6,377.1 348.9,376.3 350.5,376.8" fill="#ffd82e" stroke="#ffac1c" stroke-width="0.6"/>
<polygon points="337.6,360.2 337.8,358.6 339.9,358.2 341.0,359.7 340.4,361.3 338.9,361.8" fill="#ffd82e" stroke="#ffac1c" stroke-width="0.6"/>
<polygon points="356.8,362.0 355.4,359.7 356.1,356.9 358.4,357.1 359.6,359.7 358.6,361.7" fill="#ffd82e" stroke="#ffac1c" stroke-width="0.6"/>
<polygon points="322.3,359.4 325.3,359.4 326.9,360.8 325.8,363.1 323.7,363.4 321.5,360.9" fill="#ffd82e" stroke="#ffac1c" stroke-width="0.6"/>
<polygon points="359.7,373.0 358.1,374.5 357.0,373.8 356.2,371.9 357.7,370.4 359.4,371.1" fill="#ffd82e" stroke="#ffac1c" stroke-width="0.6"/>
<polygon points="341.8,365.2 339.6,364.5 339.4,361.7 341.0,360.1 343.6,361.3 343.8,363.6" fill="#ffd82e" stroke="#ffac1c" stroke-width="0.6"/>
<polygon points="327.1,368.7 326.7,367.5 329.2,366.1 330.6,367.9 330.3,369.5 328.9,370.3" fill="#ffd82e" stroke="#ffac1c" stroke-width="0.6"/>
<polygon points="349.5,364.2 348.4,362.7 349.1,361.1 351.3,360.1 352.1,362.3 351.7,363.8" fill="#ffd82e" stroke="#ffac1c" stroke-width="0.6"/>
<polygon points="358.0,360.2 360.1,362.5 360.3,365.1 357.5,365.9 355.1,365.3 354.9,362.9" fill="#ffd82e" stroke="#ffac1c" stroke-width="0.6"/>
<polygon points="323.3,364.1 325.3,363.8 327.2,365.6 326.2,367.9 324.3,367.5 322.6,366.2" fill="#ffd82e" stroke="#ffac1c" stroke-width="0.6"/>
<polygon points="338.6,362.0 340.0,363.7 339.4,366.3 337.2,366.4 336.0,364.0 336.9,362.0" fill="#ffd82e" stroke="#ffac1c" stroke-width="0.6"/>
<polygon points="330.5,362.6 329.5,364.6 327.4,365.5 325.5,364.3 325.9,361.6 328.6,361.3" fill="#ffd82e" stroke="#ffac1c" stroke-width="0.6"/>
<polygon points="341.7,369.5 339.4,369.5 338.0,367.2 340.2,365.0 342.7,365.1 343.7,368.1" fill="#ffd82e" stroke="#ffac1c" stroke-width="0.6"/>
<polygon points="331.2,368.3 333.5,369.6 333.1,372.1 330.6,372.6 328.7,371.2 329.2,369.7" fill="#ffd82e" stroke="#ffac1c" stroke-width="0.6"/>
<polygon points="339.0,367.7 337.1,369.5 335.1,368.4 334.4,366.0 335.3,364.1 338.5,365.2" fill="#ffd82e" stroke="#ffac1c" stroke-width="0.6"/>
<polygon points="339.4,360.6 340.4,362.3 339.4,364.1 337.6,364.2 336.7,361.9 337.7,359.9" fill="#ffd82e" stroke="#ffac1c" stroke-width="0.6"/>
<polygon points="329.2,357.8 330.3,355.1 333.6,354.5 335.1,356.3 334.1,359.1 330.9,359.2" fill="#ffd82e" stroke="#ffac1c" stroke-width="0.6"/>
<polygon points="317.0,375.2 315.7,377.9 312.9,378.1 310.8,376.1 312.8,373.0 314.8,372.8" fill="#ffd82e" stroke="#ffac1c" stroke-width="0.6"/>
<ellipse cx="323.7" cy="304.6" rx="1.6" ry="1.6" fill="#fff070" opacity="0.9"/>
<ellipse cx="313.9" cy="318.6" rx="2.2" ry="2.5" fill="#fff070" opacity="0.9"/>
<ellipse cx="332.8" cy="317.0" rx="1.6" ry="1.6" fill="#fff070" opacity="0.9"/>
<ellipse cx="340.3" cy="318.0" rx="1.6" ry="1.6" fill="#fff070" opacity="0.9"/>
<ellipse cx="372.5" cy="317.6" rx="2.6" ry="2.3" fill="#fff070" opacity="0.9"/>
<ellipse cx="328.9" cy="327.4" rx="1.5" ry="1.5" fill="#fff070" opacity="0.9"/>
<ellipse cx="339.3" cy="332.6" rx="1.5" ry="1.5" fill="#fff070" opacity="0.9"/>
<ellipse cx="349.0" cy="330.6" rx="1.8" ry="1.6" fill="#fff070" opacity="0.9"/>
<ellipse cx="355.6" cy="336.5" rx="1.3" ry="1.3" fill="#fff070" opacity="0.9"/>
<ellipse cx="369.6" cy="337.1" rx="2.3" ry="1.7" fill="#fff070" opacity="0.9"/>
<ellipse cx="352.3" cy="346.9" rx="1.6" ry="1.6" fill="#fff070" opacity="0.9"/>
<ellipse cx="380.0" cy="346.3" rx="1.5" ry="2.2" fill="#fff070" opacity="0.9"/>
<ellipse cx="306.0" cy="345.6" rx="1.3" ry="1.2" fill="#fff070" opacity="0.9"/>
<ellipse cx="324.6" cy="347.9" rx="2.8" ry="2.5" fill="#fff070" opacity="0.9"/>
<ellipse cx="335.0" cy="353.8" rx="2.5" ry="2.5" fill="#fff070" opacity="0.9"/>
<ellipse cx="318.0" cy="356.0" rx="2.8" ry="2.2" fill="#fff070" opacity="0.9"/>
<ellipse cx="345.8" cy="355.0" rx="2.2" ry="2.2" fill="#fff070" opacity="0.9"/>
<ellipse cx="324.6" cy="363.5" rx="3.0" ry="2.4" fill="#fff070" opacity="0.9"/>
<ellipse cx="310.0" cy="362.5" rx="1.6" ry="1.6" fill="#fff070" opacity="0.9"/>
<ellipse cx="342.5" cy="361.6" rx="2.2" ry="2.2" fill="#fff070" opacity="0.9"/>
<ellipse cx="336.0" cy="368.0" rx="2.5" ry="2.2" fill="#fff070" opacity="0.9"/>
<ellipse cx="347.4" cy="370.0" rx="2.2" ry="2.2" fill="#fff070" opacity="0.9"/>
<ellipse cx="357.2" cy="369.0" rx="2.2" ry="2.2" fill="#fff070" opacity="0.9"/>
<ellipse cx="365.3" cy="362.5" rx="1.6" ry="1.9" fill="#fff070" opacity="0.9"/>
<ellipse cx="327.9" cy="371.3" rx="2.2" ry="2.2" fill="#fff070" opacity="0.9"/>
<ellipse cx="313.2" cy="373.3" rx="2.2" ry="2.2" fill="#fff070" opacity="0.9"/>
<ellipse cx="322.0" cy="380.5" rx="1.9" ry="1.9" fill="#fff070" opacity="0.9"/>
<ellipse cx="342.5" cy="376.6" rx="1.9" ry="1.7" fill="#fff070" opacity="0.9"/>
<ellipse cx="354.6" cy="376.6" rx="1.6" ry="1.6" fill="#fff070" opacity="0.9"/>
<ellipse cx="358.8" cy="364.0" rx="1.3" ry="1.3" fill="#fff070" opacity="0.9"/>
<ellipse cx="351.3" cy="363.5" rx="1.3" ry="1.3" fill="#fff070" opacity="0.9"/>
<ellipse cx="331.0" cy="360.0" rx="1.8" ry="1.8" fill="#fff070" opacity="0.9"/>
<ellipse cx="339.0" cy="374.0" rx="1.5" ry="1.5" fill="#fff070" opacity="0.9"/>
<ellipse cx="342.2" cy="374.5" rx="1.3" ry="1.3" fill="#fff070" opacity="0.9"/>
<ellipse cx="351.8" cy="373.9" rx="1.3" ry="1.3" fill="#fff070" opacity="0.9"/>
<ellipse cx="357.4" cy="359.5" rx="1.3" ry="1.3" fill="#fff070" opacity="0.9"/>
<ellipse cx="341.7" cy="362.5" rx="1.3" ry="1.3" fill="#fff070" opacity="0.9"/>
<ellipse cx="357.6" cy="363.5" rx="1.4" ry="1.4" fill="#fff070" opacity="0.9"/>
<ellipse cx="340.8" cy="367.1" rx="1.4" ry="1.4" fill="#fff070" opacity="0.9"/>
<ellipse cx="336.5" cy="366.5" rx="1.3" ry="1.3" fill="#fff070" opacity="0.9"/>
<ellipse cx="332.1" cy="357.2" rx="1.4" ry="1.4" fill="#fff070" opacity="0.9"/>
<ellipse cx="314.1" cy="375.8" rx="1.4" ry="1.4" fill="#fff070" opacity="0.9"/>
</g></g>
<g id="photo3" clip-path="url(#c3)">
<rect x="503" y="286.5" width="139" height="139.5" fill="#06071f"/>
<circle cx="574" cy="358" r="75" fill="url(#gp3)" filter="url(#b1)"/>
<path d="M503,286.5 L522,286.5 L503,312 Z M503,426 L503,396 L522,426 Z" fill="#05061a" filter="url(#b1)"/>
<rect x="503" y="286.5" width="139" height="139.5" fill="url(#gdark)"/>
<ellipse cx="572" cy="354" rx="45" ry="49" fill="#0a5a6c" opacity="0.5" filter="url(#b6)"/>
<polygon points="607.5,353.5 607.8,356.1 607.7,358.8 607.8,361.5 606.4,363.9 606.2,366.7 602.4,367.8 602.7,370.8 602.8,374.0 600.5,375.6 599.6,378.2 595.9,378.2 595.0,380.9 592.6,381.9 591.2,384.3 589.1,385.8 586.1,385.1 584.2,386.8 582.0,387.9 580.3,390.9 577.7,390.9 575.0,389.0 572.7,391.6 570.3,389.1 567.9,390.8 565.8,388.2 563.8,387.0 560.4,390.6 559.3,386.3 557.3,385.2 553.1,388.2 551.3,386.2 551.5,381.5 546.9,383.5 547.0,379.4 544.7,378.2 546.0,373.9 540.2,375.0 540.6,371.6 537.6,370.1 537.1,367.3 540.8,363.2 539.8,360.9 541.0,358.2 540.9,355.9 541.5,353.5 539.7,351.0 537.5,348.2 542.6,346.7 537.9,342.9 541.2,341.3 542.2,339.1 539.7,334.9 543.1,334.0 545.3,332.6 545.8,329.8 546.2,326.7 550.8,328.4 548.8,321.8 554.1,325.4 553.8,320.1 555.7,318.4 559.7,321.7 560.5,316.9 563.4,318.2 565.5,316.7 568.1,318.8 570.4,318.3 572.7,317.7 575.3,315.0 577.3,318.2 580.1,316.7 582.7,316.8 585.1,317.7 586.6,320.8 588.8,321.9 591.2,322.7 593.7,323.5 594.1,327.1 597.5,327.2 599.3,329.0 601.1,331.0 600.1,334.8 604.2,335.4 602.6,339.1 604.3,341.0 606.0,343.2 607.7,345.5 606.1,348.4 608.4,350.8" fill="#2bdaa8" filter="url(#b1)"/>
<g fill="#2bdaa8" filter="url(#b2)">
<polygon points="539.3,349.9 536.8,349.6 537.2,348.2 538.4,347.5 539.3,348.0"/>
<polygon points="552.0,380.4 553.0,381.0 553.1,382.9 551.5,382.1 550.2,381.1"/>
<polygon points="540.1,331.4 541.7,332.3 540.5,333.9 538.5,333.4 538.8,331.6"/>
<polygon points="564.1,392.3 561.7,393.2 559.9,392.9 560.2,390.3 562.3,390.8"/>
<polygon points="540.4,360.8 541.1,363.1 539.1,364.5 537.9,363.1 538.5,361.9"/>
<polygon points="551.5,321.9 553.0,323.1 552.0,325.3 549.8,324.6 550.5,322.8"/>
<polygon points="560.4,390.5 561.6,390.3 561.8,391.5 561.1,392.5 560.0,392.0"/>
<polygon points="536.2,354.1 535.2,355.2 533.8,355.1 533.8,352.7 535.6,353.1"/>
<polygon points="544.2,330.6 541.9,329.9 540.1,328.3 542.5,326.8 544.3,327.9"/>
<polygon points="548.4,327.2 549.4,325.7 550.8,327.1 550.8,328.8 549.0,328.2"/>
<polygon points="550.7,387.8 550.7,385.9 552.3,384.9 553.0,386.4 552.8,388.0"/>
<polygon points="532.9,357.3 535.3,355.9 536.4,358.5 535.0,361.6 533.5,359.5"/>
<polygon points="565.0,318.3 564.1,317.3 564.3,315.3 566.2,316.2 566.1,317.9"/>
<polygon points="543.4,331.5 543.6,329.9 545.2,329.0 546.2,330.1 544.9,331.9"/>
<polygon points="539.8,361.5 541.8,362.4 540.5,365.1 539.1,363.7 538.1,362.4"/>
<polygon points="563.7,314.4 565.2,312.3 568.1,312.8 567.4,315.5 565.2,316.0"/>
<polygon points="538.1,354.2 536.3,354.3 536.4,352.7 537.8,351.8 538.5,353.2"/>
<polygon points="543.4,379.7 540.9,378.1 541.8,376.1 543.8,376.0 545.4,377.4"/>
<polygon points="537.8,371.1 535.3,369.2 537.0,366.2 539.5,366.2 539.8,369.2"/>
<polygon points="541.0,335.2 539.0,333.2 540.7,330.6 543.3,331.8 543.3,334.2"/>
<polygon points="538.1,366.2 539.9,367.8 539.1,368.6 537.5,369.1 537.2,367.5"/>
<polygon points="536.9,356.7 533.9,357.1 533.6,354.2 535.8,353.2 536.8,354.0"/>
<polygon points="539.3,374.7 541.4,374.0 543.1,375.4 541.3,378.3 538.7,377.2"/>
<polygon points="538.9,345.1 539.9,343.0 542.0,344.7 541.7,347.3 539.1,346.5"/>
<polygon points="545.3,377.6 546.0,378.9 544.5,380.0 542.6,378.5 543.5,376.5"/>
<polygon points="552.4,323.8 549.3,325.2 548.6,322.9 549.2,321.4 551.9,320.9"/>
<path d="M601,338 q3.5,8 3,20 q-1.6,-9 -3,-20 Z M603.5,343 q2.6,7 1.6,15" stroke="#2bdaa8" stroke-width="1.2" fill="#2bdaa8"/>
</g>
<g fill="#0a3a48" filter="url(#b2)" opacity="0.85">
<ellipse cx="542.3" cy="365.7" rx="1.3" ry="1.1"/>
<ellipse cx="541.1" cy="366.0" rx="1.4" ry="1.0"/>
<ellipse cx="559.4" cy="320.3" rx="1.1" ry="0.9"/>
<ellipse cx="549.5" cy="379.1" rx="1.4" ry="0.8"/>
<ellipse cx="543.4" cy="337.5" rx="1.3" ry="0.6"/>
<ellipse cx="548.0" cy="331.8" rx="1.2" ry="0.8"/>
<ellipse cx="541.0" cy="342.7" rx="1.2" ry="1.0"/>
<ellipse cx="560.4" cy="381.7" rx="1.0" ry="1.0"/>
<ellipse cx="547.2" cy="375.2" rx="1.2" ry="0.5"/>
<ellipse cx="542.6" cy="355.4" rx="0.6" ry="0.6"/>
<ellipse cx="545.7" cy="366.8" rx="0.8" ry="0.5"/>
<ellipse cx="541.8" cy="356.0" rx="1.2" ry="0.9"/>
<ellipse cx="545.3" cy="374.8" rx="0.6" ry="0.8"/>
<ellipse cx="545.8" cy="370.2" rx="0.7" ry="1.1"/>
<ellipse cx="545.0" cy="362.5" rx="1.2" ry="0.6"/>
<ellipse cx="542.1" cy="349.7" rx="1.1" ry="1.2"/>
</g>
<ellipse cx="578" cy="352" rx="22" ry="25" fill="#66efcd" opacity="0.55" filter="url(#b3)"/>
<circle cx="579" cy="352.5" r="19.5" fill="none" stroke="#1cc396" stroke-width="1.2" opacity="0.5" filter="url(#b1)"/>
<circle cx="580" cy="354" r="13" fill="none" stroke="#8af5da" stroke-width="1.1" opacity="0.45" filter="url(#b1)"/>
<g fill="#0d6c66" filter="url(#b2)" opacity="0.8">
<ellipse cx="578" cy="363.5" rx="2.6" ry="1.6"/>
<ellipse cx="560.4" cy="352.6" rx="2" ry="1.6"/>
<ellipse cx="558.5" cy="346" rx="1.4" ry="1.8"/>
<ellipse cx="565" cy="360" rx="1.2" ry="1"/>
<ellipse cx="598" cy="336" rx="1" ry="2"/>
<ellipse cx="553" cy="328" rx="2" ry="1"/>
<ellipse cx="594" cy="346" rx="1.2" ry="1.6"/>
<ellipse cx="549" cy="372" rx="2" ry="1"/>
<ellipse cx="566" cy="338" rx="1.4" ry="1"/>
</g>
<path d="M530,320 L531.2,323.2" stroke="#2bdaa8" stroke-width="1.7" stroke-linecap="round" filter="url(#b2)"/>
</g>
<polygon points="169.7,350.6 255,350.6 255,343.9 266.2,357.2 255,370.5 255,363.5 169.7,363.5" fill="url(#ga1)"/>
<text x="170.6" y="340.8" font-size="17.6" text-anchor="start" font-weight="bold" fill="#0a0a0a" letter-spacing="0.6">Doping Sb</text>
<polygon points="405.4,350.5 490.4,350.5 490.4,343.6 502.6,357.2 490.4,370.7 490.4,363.8 405.4,363.8" fill="url(#ga2)"/>
<text x="453.2" y="345.2" font-size="23.4" text-anchor="middle" fill="#0a0a0a" stroke="#0a0a0a" stroke-width="0.7" letter-spacing="1.6">-H<tspan font-size="14" dy="4.2">2</tspan><tspan dy="-4.2" font-size="1">&#8203;</tspan>O</text>
<text x="453.4" y="387.5" font-size="23.4" text-anchor="middle" fill="#0a0a0a" stroke="#0a0a0a" stroke-width="0.7" letter-spacing="1.4">+Cl<tspan font-size="15" dy="-7">-</tspan><tspan dy="7" font-size="1">&#8203;</tspan></text>
</svg></body></html>
